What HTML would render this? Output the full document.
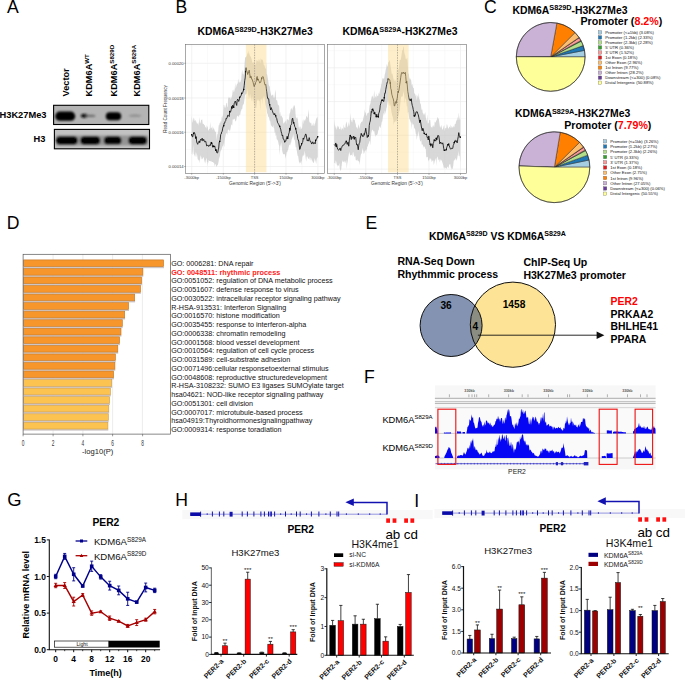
<!DOCTYPE html>
<html><head><meta charset="utf-8"><style>
html,body{margin:0;padding:0;background:#fff;width:685px;height:680px;overflow:hidden}
svg{display:block}
text{font-family:"Liberation Sans",sans-serif}
</style></head><body>
<svg width="685" height="680" viewBox="0 0 685 680" font-family="Liberation Sans, sans-serif">
<rect width="685" height="680" fill="#fff"/>
<text x="7.00" y="13.10" font-size="17.6" text-anchor="start" fill="#000" >A</text>
<text x="175.60" y="13.10" font-size="17.6" text-anchor="start" fill="#000" >B</text>
<text x="484.00" y="13.10" font-size="17.6" text-anchor="start" fill="#000" >C</text>
<text x="6.70" y="229.00" font-size="17.6" text-anchor="start" fill="#000" >D</text>
<text x="365.60" y="228.70" font-size="17.6" text-anchor="start" fill="#000" >E</text>
<text x="364.00" y="382.50" font-size="17.6" text-anchor="start" fill="#000" >F</text>
<text x="7.30" y="506.40" font-size="18.4" text-anchor="start" fill="#000" >G</text>
<text x="175.30" y="506.30" font-size="17.6" text-anchor="start" fill="#000" >H</text>
<text x="414.20" y="506.60" font-size="17.6" text-anchor="start" fill="#000" >I</text>
<text transform="translate(69.0,96.4) rotate(-90)" font-size="9.2" font-weight="bold">Vector</text>
<text transform="translate(92.3,96.4) rotate(-90)" font-size="9.2" font-weight="bold">KDM6A<tspan font-size="6.16" dy="-3.50">WT</tspan></text>
<text transform="translate(117.2,96.4) rotate(-90)" font-size="9.2" font-weight="bold">KDM6A<tspan font-size="6.16" dy="-3.50">S829D</tspan></text>
<text transform="translate(139.8,96.4) rotate(-90)" font-size="9.2" font-weight="bold">KDM6A<tspan font-size="6.16" dy="-3.50">S829A</tspan></text>
<text x="-0.50" y="117.90" font-size="9.3" font-weight="bold" text-anchor="start" fill="#000" >H3K27Me3</text>
<text x="33.60" y="141.90" font-size="9.3" font-weight="bold" text-anchor="start" fill="#000" >H3</text>
<defs><filter id="blur1" x="-30%" y="-50%" width="160%" height="200%"><feGaussianBlur stdDeviation="1.1"/></filter><filter id="blur2" x="-30%" y="-50%" width="160%" height="200%"><feGaussianBlur stdDeviation="0.8"/></filter></defs>
<rect x="53.6" y="105.3" width="95.2" height="19.2" fill="#b4b4b4"/>
<g filter="url(#blur1)"><rect x="55.2" y="111.6" width="20" height="9.2" rx="4.6" fill="#000"/><ellipse cx="84.4" cy="115.7" rx="3.6" ry="2" fill="#111"/><ellipse cx="90.5" cy="115.9" rx="5" ry="1.1" fill="#6a6a6a"/><rect x="105.8" y="112.2" width="15.4" height="8" rx="4" fill="#000"/><ellipse cx="135" cy="115.7" rx="6.4" ry="1.1" fill="#8a8a8a"/></g>
<rect x="53.6" y="105.3" width="95.2" height="19.2" fill="none" stroke="#000" stroke-width="1.1"/>
<rect x="54.4" y="129.4" width="95.1" height="19.4" fill="#c2c2c2"/>
<g filter="url(#blur2)"><rect x="56" y="135.5" width="92" height="10" fill="#707070" opacity="0.55"/><rect x="56.0" y="136.5" width="21.6" height="8" rx="4" fill="#000"/><rect x="80.4" y="136.6" width="19.8" height="7.8" rx="3.9" fill="#000"/><rect x="104.0" y="136.5" width="17.4" height="7.8" rx="3.9" fill="#000"/><rect x="128.4" y="136.4" width="18.6" height="8" rx="4" fill="#050505"/></g>
<rect x="54.4" y="129.4" width="95.1" height="19.4" fill="none" stroke="#000" stroke-width="1.1"/>
<text x="197.6" y="35.2" font-size="10.4" font-weight="bold">KDM6A<tspan font-size="7.28" dy="-3.60">S829D</tspan><tspan dy="3.60">-H3K27Me3</tspan></text>
<rect x="185.5" y="44.3" width="138.89999999999998" height="129.10000000000002" fill="#fff"/>
<path d="M207.50,44.3V173.4 M238.95,44.3V173.4 M270.30,44.3V173.4 M301.95,44.3V173.4 M185.5,80.62H324.4 M185.5,115.12H324.4 M185.5,149.38H324.4 M185.5,46.05H324.4" stroke="#f5f5f5" stroke-width="0.5" fill="none"/>
<path d="M191.70,44.3V173.4 M223.30,44.3V173.4 M254.60,44.3V173.4 M286.00,44.3V173.4 M317.90,44.3V173.4 M185.5,63.25H324.4 M185.5,98.00H324.4 M185.5,132.25H324.4 M185.5,166.50H324.4" stroke="#ececec" stroke-width="0.7" fill="none"/>
<path d="M191.70,116.05 L192.20,119.68 L192.70,123.15 L193.20,119.82 L193.70,117.51 L194.20,118.65 L194.70,120.88 L195.20,120.71 L195.70,119.78 L196.20,123.73 L196.70,121.04 L197.20,123.48 L197.70,124.04 L198.20,122.10 L198.70,125.77 L199.20,121.97 L199.70,116.97 L200.20,123.73 L200.70,122.55 L201.20,119.43 L201.70,119.99 L202.20,119.18 L202.70,123.76 L203.20,123.93 L203.70,123.78 L204.20,124.93 L204.70,124.89 L205.20,127.55 L205.70,127.14 L206.20,125.12 L206.70,128.85 L207.20,126.53 L207.70,126.39 L208.20,130.71 L208.70,130.35 L209.20,128.64 L209.70,128.94 L210.20,121.81 L210.70,128.70 L211.20,127.31 L211.70,128.61 L212.20,126.01 L212.70,130.02 L213.20,129.01 L213.70,127.35 L214.20,129.36 L214.70,130.56 L215.20,132.34 L215.70,131.34 L216.20,133.72 L216.70,140.57 L217.20,134.44 L217.70,134.03 L218.20,130.78 L218.70,125.37 L219.20,125.32 L219.70,122.68 L220.20,123.09 L220.70,121.06 L221.20,121.89 L221.70,117.30 L222.20,115.61 L222.70,118.88 L223.20,113.13 L223.70,104.77 L224.20,104.91 L224.70,107.46 L225.20,108.01 L225.70,106.28 L226.20,103.34 L226.70,102.74 L227.20,107.62 L227.70,106.28 L228.20,96.13 L228.70,98.69 L229.20,97.07 L229.70,98.36 L230.20,97.24 L230.70,99.64 L231.20,98.28 L231.70,97.00 L232.20,94.64 L232.70,90.51 L233.20,89.44 L233.70,92.35 L234.20,91.38 L234.70,89.09 L235.20,82.72 L235.70,88.68 L236.20,86.86 L236.70,84.86 L237.20,84.07 L237.70,83.26 L238.20,78.60 L238.70,82.31 L239.20,82.90 L239.70,81.30 L240.20,82.49 L240.70,81.34 L241.20,79.86 L241.70,73.38 L242.20,69.67 L242.70,73.82 L243.20,74.63 L243.70,73.53 L244.20,70.49 L244.70,62.09 L245.20,56.67 L245.70,57.83 L246.20,56.26 L246.70,56.40 L247.20,53.90 L247.70,53.13 L248.20,50.76 L248.70,53.62 L249.20,53.35 L249.70,55.10 L250.20,56.22 L250.70,56.43 L251.20,58.12 L251.70,59.41 L252.20,62.12 L252.70,63.01 L253.20,62.16 L253.70,61.95 L254.20,66.06 L254.70,60.28 L255.20,65.03 L255.70,64.22 L256.20,61.65 L256.70,59.82 L257.20,60.50 L257.70,61.05 L258.20,62.10 L258.70,59.26 L259.20,59.53 L259.70,60.62 L260.20,63.81 L260.70,57.97 L261.20,60.11 L261.70,59.25 L262.20,59.55 L262.70,59.89 L263.20,61.42 L263.70,64.64 L264.20,64.89 L264.70,66.36 L265.20,68.41 L265.70,68.83 L266.20,62.72 L266.70,73.80 L267.20,74.70 L267.70,77.76 L268.20,80.47 L268.70,84.78 L269.20,86.02 L269.70,86.41 L270.20,90.85 L270.70,92.92 L271.20,95.31 L271.70,95.64 L272.20,95.13 L272.70,94.50 L273.20,94.78 L273.70,97.78 L274.20,98.22 L274.70,96.02 L275.20,89.57 L275.70,92.99 L276.20,100.43 L276.70,99.93 L277.20,100.50 L277.70,103.88 L278.20,105.87 L278.70,104.58 L279.20,106.81 L279.70,114.68 L280.20,111.40 L280.70,116.53 L281.20,115.38 L281.70,116.00 L282.20,117.73 L282.70,117.16 L283.20,122.46 L283.70,123.86 L284.20,122.46 L284.70,122.58 L285.20,120.44 L285.70,121.42 L286.20,123.93 L286.70,119.69 L287.20,119.30 L287.70,119.25 L288.20,120.27 L288.70,120.23 L289.20,116.25 L289.70,113.14 L290.20,112.34 L290.70,109.39 L291.20,107.67 L291.70,108.93 L292.20,110.55 L292.70,108.48 L293.20,104.94 L293.70,108.20 L294.20,104.84 L294.70,105.96 L295.20,108.57 L295.70,116.13 L296.20,117.54 L296.70,118.16 L297.20,119.03 L297.70,116.76 L298.20,122.64 L298.70,127.60 L299.20,126.14 L299.70,128.44 L300.20,129.52 L300.70,125.94 L301.20,128.33 L301.70,129.20 L302.20,127.16 L302.70,119.38 L303.20,124.61 L303.70,119.53 L304.20,119.77 L304.70,121.50 L305.20,118.20 L305.70,120.99 L306.20,115.77 L306.70,116.42 L307.20,116.65 L307.70,118.18 L308.20,112.96 L308.70,109.19 L309.20,121.14 L309.70,122.15 L310.20,123.62 L310.70,122.47 L311.20,122.76 L311.70,126.12 L312.20,125.84 L312.70,124.64 L313.20,122.41 L313.70,125.79 L314.20,126.01 L314.70,123.97 L315.20,123.29 L315.70,120.86 L316.20,118.77 L316.70,117.98 L317.20,116.41 L317.70,118.66 L317.70,158.27 L317.20,156.93 L316.70,159.43 L316.20,163.92 L315.70,161.63 L315.20,159.88 L314.70,158.01 L314.20,161.16 L313.70,162.81 L313.20,163.07 L312.70,161.82 L312.20,160.61 L311.70,160.18 L311.20,158.16 L310.70,157.44 L310.20,160.49 L309.70,159.37 L309.20,156.78 L308.70,158.75 L308.20,159.10 L307.70,157.26 L307.20,156.13 L306.70,156.51 L306.20,161.67 L305.70,158.29 L305.20,154.02 L304.70,150.53 L304.20,154.94 L303.70,156.24 L303.20,154.30 L302.70,156.07 L302.20,157.86 L301.70,165.13 L301.20,160.43 L300.70,162.13 L300.20,163.21 L299.70,161.72 L299.20,163.93 L298.70,160.04 L298.20,156.33 L297.70,156.00 L297.20,153.23 L296.70,150.26 L296.20,146.97 L295.70,147.43 L295.20,143.04 L294.70,139.50 L294.20,140.08 L293.70,137.06 L293.20,133.98 L292.70,136.76 L292.20,138.35 L291.70,139.34 L291.20,141.95 L290.70,145.81 L290.20,141.90 L289.70,144.96 L289.20,144.98 L288.70,147.02 L288.20,149.62 L287.70,150.45 L287.20,152.13 L286.70,151.99 L286.20,155.24 L285.70,158.80 L285.20,155.77 L284.70,154.34 L284.20,153.98 L283.70,154.28 L283.20,154.18 L282.70,153.04 L282.20,150.76 L281.70,146.13 L281.20,142.33 L280.70,144.69 L280.20,146.52 L279.70,155.07 L279.20,145.93 L278.70,144.45 L278.20,141.86 L277.70,140.18 L277.20,139.59 L276.70,139.27 L276.20,134.89 L275.70,136.29 L275.20,131.67 L274.70,133.02 L274.20,128.43 L273.70,127.74 L273.20,125.01 L272.70,127.37 L272.20,126.94 L271.70,125.08 L271.20,126.72 L270.70,123.60 L270.20,120.79 L269.70,120.82 L269.20,118.22 L268.70,116.26 L268.20,117.39 L267.70,112.94 L267.20,114.43 L266.70,109.55 L266.20,107.49 L265.70,105.61 L265.20,103.14 L264.70,98.72 L264.20,95.92 L263.70,99.04 L263.20,95.54 L262.70,104.84 L262.20,97.60 L261.70,98.68 L261.20,100.23 L260.70,98.99 L260.20,110.77 L259.70,101.19 L259.20,100.80 L258.70,99.32 L258.20,101.11 L257.70,100.68 L257.20,98.97 L256.70,103.97 L256.20,107.95 L255.70,108.31 L255.20,107.40 L254.70,104.69 L254.20,105.34 L253.70,101.90 L253.20,99.13 L252.70,95.79 L252.20,101.19 L251.70,100.68 L251.20,97.18 L250.70,97.76 L250.20,93.91 L249.70,95.76 L249.20,98.83 L248.70,94.05 L248.20,99.38 L247.70,88.61 L247.20,91.55 L246.70,93.75 L246.20,93.90 L245.70,94.32 L245.20,94.73 L244.70,97.13 L244.20,101.21 L243.70,104.15 L243.20,104.54 L242.70,105.48 L242.20,109.04 L241.70,108.92 L241.20,110.45 L240.70,111.60 L240.20,114.76 L239.70,115.56 L239.20,114.13 L238.70,116.73 L238.20,116.46 L237.70,116.04 L237.20,115.62 L236.70,117.78 L236.20,120.49 L235.70,120.82 L235.20,121.63 L234.70,118.42 L234.20,119.01 L233.70,119.21 L233.20,119.66 L232.70,119.34 L232.20,125.68 L231.70,124.16 L231.20,124.90 L230.70,127.63 L230.20,130.29 L229.70,131.44 L229.20,129.83 L228.70,130.27 L228.20,129.03 L227.70,131.23 L227.20,135.09 L226.70,133.26 L226.20,132.97 L225.70,135.02 L225.20,137.43 L224.70,140.66 L224.20,147.54 L223.70,142.87 L223.20,145.63 L222.70,145.99 L222.20,147.29 L221.70,148.88 L221.20,150.37 L220.70,150.78 L220.20,152.72 L219.70,158.94 L219.20,156.06 L218.70,160.96 L218.20,163.55 L217.70,164.98 L217.20,165.38 L216.70,166.12 L216.20,167.05 L215.70,164.57 L215.20,163.82 L214.70,166.51 L214.20,163.18 L213.70,162.91 L213.20,162.17 L212.70,161.99 L212.20,161.96 L211.70,162.07 L211.20,160.68 L210.70,161.17 L210.20,161.15 L209.70,160.93 L209.20,160.88 L208.70,159.85 L208.20,163.00 L207.70,161.78 L207.20,166.44 L206.70,158.01 L206.20,158.65 L205.70,160.67 L205.20,163.43 L204.70,162.12 L204.20,160.12 L203.70,156.91 L203.20,157.39 L202.70,159.41 L202.20,157.92 L201.70,159.49 L201.20,156.92 L200.70,155.25 L200.20,158.07 L199.70,163.13 L199.20,159.55 L198.70,160.86 L198.20,159.47 L197.70,159.20 L197.20,155.42 L196.70,152.57 L196.20,157.08 L195.70,156.55 L195.20,151.38 L194.70,156.69 L194.20,154.85 L193.70,153.66 L193.20,144.94 L192.70,151.68 L192.20,155.01 L191.70,153.46Z" fill="#b8b8b8" opacity="0.55"/>
<path d="M191.70,134.75 L192.20,136.62 L192.70,136.96 L193.20,134.40 L193.70,133.37 L194.20,132.38 L194.70,133.34 L195.20,134.98 L195.70,137.96 L196.20,136.62 L196.70,142.05 L197.20,143.16 L197.70,144.31 L198.20,142.83 L198.70,141.47 L199.20,141.73 L199.70,142.03 L200.20,140.32 L200.70,139.28 L201.20,140.44 L201.70,139.28 L202.20,138.17 L202.70,140.78 L203.20,140.76 L203.70,139.28 L204.20,140.57 L204.70,141.85 L205.20,141.54 L205.70,141.18 L206.20,143.45 L206.70,145.93 L207.20,145.62 L207.70,144.95 L208.20,145.96 L208.70,146.47 L209.20,144.95 L209.70,145.21 L210.20,145.78 L210.70,143.94 L211.20,141.97 L211.70,143.16 L212.20,144.67 L212.70,147.23 L213.20,145.59 L213.70,146.41 L214.20,147.01 L214.70,145.91 L215.20,148.32 L215.70,150.20 L216.20,149.42 L216.70,152.37 L217.20,153.09 L217.70,152.77 L218.20,149.92 L218.70,148.09 L219.20,142.59 L219.70,141.58 L220.20,139.76 L220.70,134.49 L221.20,134.10 L221.70,131.93 L222.20,131.34 L222.70,128.18 L223.20,126.65 L223.70,125.85 L224.20,122.97 L224.70,123.06 L225.20,121.33 L225.70,120.67 L226.20,118.15 L226.70,118.59 L227.20,117.35 L227.70,115.31 L228.20,115.33 L228.70,115.87 L229.20,116.52 L229.70,111.56 L230.20,112.38 L230.70,111.49 L231.20,109.72 L231.70,107.04 L232.20,108.56 L232.70,105.11 L233.20,106.04 L233.70,107.20 L234.20,103.20 L234.70,102.95 L235.20,101.05 L235.70,102.13 L236.20,104.13 L236.70,105.45 L237.20,100.18 L237.70,99.13 L238.20,100.12 L238.70,101.45 L239.20,99.98 L239.70,97.24 L240.20,97.13 L240.70,96.24 L241.20,95.18 L241.70,93.35 L242.20,93.36 L242.70,92.60 L243.20,91.02 L243.70,89.47 L244.20,85.73 L244.70,80.73 L245.20,77.97 L245.70,71.74 L246.20,67.65 L246.70,71.11 L247.20,71.74 L247.70,74.54 L248.20,73.07 L248.70,71.88 L249.20,70.15 L249.70,73.63 L250.20,77.94 L250.70,76.07 L251.20,76.36 L251.70,79.19 L252.20,79.28 L252.70,81.01 L253.20,82.57 L253.70,84.94 L254.20,86.64 L254.70,84.82 L255.20,84.76 L255.70,82.24 L256.20,81.64 L256.70,77.24 L257.20,76.41 L257.70,79.60 L258.20,79.11 L258.70,80.68 L259.20,81.42 L259.70,82.98 L260.20,82.62 L260.70,82.35 L261.20,80.31 L261.70,78.25 L262.20,77.00 L262.70,76.50 L263.20,76.81 L263.70,78.91 L264.20,81.42 L264.70,83.97 L265.20,85.18 L265.70,84.34 L266.20,88.22 L266.70,91.82 L267.20,96.05 L267.70,98.58 L268.20,98.39 L268.70,98.81 L269.20,103.70 L269.70,104.81 L270.20,107.59 L270.70,110.01 L271.20,107.55 L271.70,108.92 L272.20,110.37 L272.70,111.89 L273.20,113.28 L273.70,114.15 L274.20,114.97 L274.70,113.44 L275.20,115.24 L275.70,115.77 L276.20,117.82 L276.70,118.45 L277.20,120.85 L277.70,122.79 L278.20,123.47 L278.70,124.34 L279.20,125.62 L279.70,126.32 L280.20,127.96 L280.70,129.13 L281.20,131.85 L281.70,133.44 L282.20,135.89 L282.70,135.14 L283.20,138.92 L283.70,139.15 L284.20,140.20 L284.70,142.37 L285.20,141.07 L285.70,141.19 L286.20,139.44 L286.70,137.40 L287.20,136.26 L287.70,138.33 L288.20,136.88 L288.70,133.93 L289.20,132.64 L289.70,128.63 L290.20,130.51 L290.70,125.39 L291.20,124.83 L291.70,123.51 L292.20,118.86 L292.70,118.15 L293.20,121.32 L293.70,122.83 L294.20,124.05 L294.70,126.44 L295.20,127.22 L295.70,128.86 L296.20,130.63 L296.70,133.90 L297.20,134.46 L297.70,138.59 L298.20,139.94 L298.70,141.06 L299.20,145.05 L299.70,149.47 L300.20,148.76 L300.70,145.84 L301.20,145.83 L301.70,143.70 L302.20,142.77 L302.70,142.21 L303.20,138.01 L303.70,139.31 L304.20,137.66 L304.70,136.95 L305.20,135.05 L305.70,133.91 L306.20,134.83 L306.70,137.98 L307.20,140.80 L307.70,139.80 L308.20,141.15 L308.70,140.08 L309.20,137.61 L309.70,139.82 L310.20,141.57 L310.70,141.42 L311.20,142.75 L311.70,144.06 L312.20,142.90 L312.70,141.82 L313.20,143.49 L313.70,143.82 L314.20,142.55 L314.70,143.21 L315.20,143.87 L315.70,140.35 L316.20,139.67 L316.70,139.01 L317.20,137.67 L317.70,136.85" fill="none" stroke="#111" stroke-width="0.85" stroke-linejoin="bevel"/>
<path d="M190.90,134.75a0.8,0.8 0 1,0 1.6,0a0.8,0.8 0 1,0 -1.6,0M192.90,133.37a0.8,0.8 0 1,0 1.6,0a0.8,0.8 0 1,0 -1.6,0M194.90,137.96a0.8,0.8 0 1,0 1.6,0a0.8,0.8 0 1,0 -1.6,0M198.90,142.03a0.8,0.8 0 1,0 1.6,0a0.8,0.8 0 1,0 -1.6,0M210.90,143.16a0.8,0.8 0 1,0 1.6,0a0.8,0.8 0 1,0 -1.6,0M212.90,146.41a0.8,0.8 0 1,0 1.6,0a0.8,0.8 0 1,0 -1.6,0M214.90,150.20a0.8,0.8 0 1,0 1.6,0a0.8,0.8 0 1,0 -1.6,0M218.90,141.58a0.8,0.8 0 1,0 1.6,0a0.8,0.8 0 1,0 -1.6,0M222.90,125.85a0.8,0.8 0 1,0 1.6,0a0.8,0.8 0 1,0 -1.6,0M228.90,111.56a0.8,0.8 0 1,0 1.6,0a0.8,0.8 0 1,0 -1.6,0M230.90,107.04a0.8,0.8 0 1,0 1.6,0a0.8,0.8 0 1,0 -1.6,0M232.90,107.20a0.8,0.8 0 1,0 1.6,0a0.8,0.8 0 1,0 -1.6,0M238.90,97.24a0.8,0.8 0 1,0 1.6,0a0.8,0.8 0 1,0 -1.6,0M240.90,93.35a0.8,0.8 0 1,0 1.6,0a0.8,0.8 0 1,0 -1.6,0M242.90,89.47a0.8,0.8 0 1,0 1.6,0a0.8,0.8 0 1,0 -1.6,0M244.90,71.74a0.8,0.8 0 1,0 1.6,0a0.8,0.8 0 1,0 -1.6,0M256.90,79.60a0.8,0.8 0 1,0 1.6,0a0.8,0.8 0 1,0 -1.6,0M260.90,78.25a0.8,0.8 0 1,0 1.6,0a0.8,0.8 0 1,0 -1.6,0M268.90,104.81a0.8,0.8 0 1,0 1.6,0a0.8,0.8 0 1,0 -1.6,0M274.90,115.77a0.8,0.8 0 1,0 1.6,0a0.8,0.8 0 1,0 -1.6,0M278.90,126.32a0.8,0.8 0 1,0 1.6,0a0.8,0.8 0 1,0 -1.6,0M286.90,138.33a0.8,0.8 0 1,0 1.6,0a0.8,0.8 0 1,0 -1.6,0M288.90,128.63a0.8,0.8 0 1,0 1.6,0a0.8,0.8 0 1,0 -1.6,0M292.90,122.83a0.8,0.8 0 1,0 1.6,0a0.8,0.8 0 1,0 -1.6,0M294.90,128.86a0.8,0.8 0 1,0 1.6,0a0.8,0.8 0 1,0 -1.6,0M300.90,143.70a0.8,0.8 0 1,0 1.6,0a0.8,0.8 0 1,0 -1.6,0M314.90,140.35a0.8,0.8 0 1,0 1.6,0a0.8,0.8 0 1,0 -1.6,0M316.90,136.85a0.8,0.8 0 1,0 1.6,0a0.8,0.8 0 1,0 -1.6,0" fill="#000"/>
<rect x="245.9" y="44.3" width="20.599999999999994" height="127.90000000000002" fill="#ffd98a" opacity="0.45"/>
<path d="M254.6,44.3V173.4" stroke="#777" stroke-width="0.5" stroke-dasharray="1.4,1.2"/>
<rect x="185.5" y="44.3" width="138.89999999999998" height="129.10000000000002" fill="none" stroke="#6e6e6e" stroke-width="0.6"/>
<path d="M191.70,173.4v1.2 M223.30,173.4v1.2 M254.60,173.4v1.2 M286.00,173.4v1.2 M317.90,173.4v1.2" stroke="#555" stroke-width="0.5"/>
<text x="191.70" y="179.00" font-size="4.0" text-anchor="middle" fill="#3a3a3a" >-3000bp</text>
<text x="223.30" y="179.00" font-size="4.0" text-anchor="middle" fill="#3a3a3a" >-1500bp</text>
<text x="254.60" y="179.00" font-size="4.0" text-anchor="middle" fill="#3a3a3a" >TSS</text>
<text x="286.00" y="179.00" font-size="4.0" text-anchor="middle" fill="#3a3a3a" >1500bp</text>
<text x="317.90" y="179.00" font-size="4.0" text-anchor="middle" fill="#3a3a3a" >3000bp</text>
<text x="254.95" y="185.20" font-size="4.8" text-anchor="middle" fill="#333" >Genomic Region (5'-&gt;3')</text>
<text x="183.70" y="64.75" font-size="4.2" text-anchor="end" fill="#3a3a3a" >0.00020</text>
<text x="183.70" y="99.50" font-size="4.2" text-anchor="end" fill="#3a3a3a" >0.00018</text>
<text x="183.70" y="133.75" font-size="4.2" text-anchor="end" fill="#3a3a3a" >0.00016</text>
<text x="183.70" y="168.00" font-size="4.2" text-anchor="end" fill="#3a3a3a" >0.00014</text>
<path d="M184.3,63.25h1.2 M184.3,98.00h1.2 M184.3,132.25h1.2 M184.3,166.50h1.2" stroke="#555" stroke-width="0.5"/>
<text transform="translate(167.4,109) rotate(-90)" font-size="4.6" text-anchor="middle" fill="#333">Read Count Frequency</text>
<text x="342.4" y="35.2" font-size="10.4" font-weight="bold">KDM6A<tspan font-size="7.28" dy="-3.60">S829A</tspan><tspan dy="3.60">-H3K27Me3</tspan></text>
<rect x="327.6" y="44.3" width="138.79999999999995" height="129.3" fill="#fff"/>
<path d="M350.00,44.3V173.6 M381.62,44.3V173.6 M413.25,44.3V173.6 M444.75,44.3V173.6 M327.6,84.70H466.4 M327.6,118.45H466.4 M327.6,152.20H466.4 M327.6,50.60H466.4" stroke="#f5f5f5" stroke-width="0.5" fill="none"/>
<path d="M334.25,44.3V173.6 M365.75,44.3V173.6 M397.50,44.3V173.6 M429.00,44.3V173.6 M460.50,44.3V173.6 M327.6,67.80H466.4 M327.6,101.60H466.4 M327.6,135.30H466.4 M327.6,169.10H466.4" stroke="#ececec" stroke-width="0.7" fill="none"/>
<path d="M334.25,119.60 L334.75,124.29 L335.25,128.44 L335.75,125.33 L336.25,128.00 L336.75,130.08 L337.25,127.20 L337.75,125.39 L338.25,126.55 L338.75,127.07 L339.25,129.46 L339.75,128.87 L340.25,129.51 L340.75,126.15 L341.25,128.55 L341.75,130.44 L342.25,127.88 L342.75,128.57 L343.25,129.88 L343.75,124.19 L344.25,127.39 L344.75,127.57 L345.25,128.24 L345.75,124.50 L346.25,121.56 L346.75,123.05 L347.25,125.93 L347.75,127.58 L348.25,125.34 L348.75,121.70 L349.25,126.39 L349.75,123.54 L350.25,112.75 L350.75,119.76 L351.25,119.81 L351.75,122.11 L352.25,122.61 L352.75,119.02 L353.25,117.52 L353.75,120.27 L354.25,119.41 L354.75,120.01 L355.25,122.77 L355.75,124.17 L356.25,127.45 L356.75,126.89 L357.25,129.26 L357.75,127.42 L358.25,126.09 L358.75,124.12 L359.25,127.37 L359.75,128.86 L360.25,123.93 L360.75,123.18 L361.25,121.88 L361.75,121.83 L362.25,121.70 L362.75,120.62 L363.25,118.46 L363.75,116.39 L364.25,114.42 L364.75,109.23 L365.25,113.78 L365.75,111.70 L366.25,115.37 L366.75,115.92 L367.25,113.59 L367.75,112.94 L368.25,112.67 L368.75,112.63 L369.25,108.40 L369.75,105.07 L370.25,104.23 L370.75,101.49 L371.25,98.96 L371.75,96.61 L372.25,96.87 L372.75,95.22 L373.25,99.02 L373.75,95.77 L374.25,89.96 L374.75,97.95 L375.25,97.17 L375.75,95.79 L376.25,97.63 L376.75,93.13 L377.25,96.09 L377.75,96.14 L378.25,95.70 L378.75,92.57 L379.25,94.21 L379.75,91.85 L380.25,89.25 L380.75,87.61 L381.25,84.20 L381.75,83.32 L382.25,79.58 L382.75,77.86 L383.25,79.00 L383.75,78.34 L384.25,78.32 L384.75,74.61 L385.25,72.72 L385.75,69.49 L386.25,68.16 L386.75,63.67 L387.25,67.12 L387.75,65.19 L388.25,61.74 L388.75,62.48 L389.25,61.04 L389.75,59.83 L390.25,63.96 L390.75,67.01 L391.25,70.73 L391.75,74.02 L392.25,73.52 L392.75,75.07 L393.25,77.77 L393.75,79.68 L394.25,81.52 L394.75,79.19 L395.25,79.83 L395.75,81.05 L396.25,83.02 L396.75,66.86 L397.25,78.23 L397.75,74.15 L398.25,68.83 L398.75,69.53 L399.25,63.94 L399.75,59.64 L400.25,60.10 L400.75,59.81 L401.25,56.71 L401.75,53.14 L402.25,49.68 L402.75,50.62 L403.25,46.45 L403.75,46.67 L404.25,52.24 L404.75,54.29 L405.25,55.58 L405.75,58.92 L406.25,58.36 L406.75,59.72 L407.25,57.42 L407.75,62.98 L408.25,74.02 L408.75,73.14 L409.25,77.57 L409.75,79.02 L410.25,80.06 L410.75,78.10 L411.25,81.30 L411.75,85.46 L412.25,83.82 L412.75,86.40 L413.25,87.99 L413.75,87.89 L414.25,92.93 L414.75,93.66 L415.25,94.27 L415.75,96.45 L416.25,94.44 L416.75,100.76 L417.25,97.24 L417.75,95.01 L418.25,97.76 L418.75,92.62 L419.25,98.77 L419.75,99.79 L420.25,104.44 L420.75,103.09 L421.25,107.91 L421.75,110.23 L422.25,109.24 L422.75,113.11 L423.25,113.27 L423.75,115.03 L424.25,113.05 L424.75,115.45 L425.25,111.80 L425.75,117.25 L426.25,119.44 L426.75,121.44 L427.25,114.28 L427.75,123.41 L428.25,122.66 L428.75,123.66 L429.25,119.77 L429.75,119.91 L430.25,119.96 L430.75,126.12 L431.25,127.85 L431.75,126.82 L432.25,127.73 L432.75,125.79 L433.25,124.97 L433.75,126.69 L434.25,126.83 L434.75,121.60 L435.25,122.70 L435.75,122.05 L436.25,120.72 L436.75,120.04 L437.25,118.27 L437.75,116.67 L438.25,118.84 L438.75,118.47 L439.25,122.51 L439.75,125.74 L440.25,127.88 L440.75,126.54 L441.25,125.02 L441.75,127.22 L442.25,129.88 L442.75,129.03 L443.25,127.95 L443.75,125.93 L444.25,125.17 L444.75,131.02 L445.25,128.13 L445.75,127.95 L446.25,128.15 L446.75,124.22 L447.25,124.64 L447.75,126.88 L448.25,128.75 L448.75,128.26 L449.25,126.91 L449.75,126.93 L450.25,124.55 L450.75,128.21 L451.25,127.82 L451.75,125.87 L452.25,126.90 L452.75,127.69 L453.25,127.35 L453.75,125.62 L454.25,127.57 L454.75,124.37 L455.25,123.93 L455.75,123.41 L456.25,119.56 L456.75,121.67 L457.25,116.39 L457.75,119.89 L458.25,119.86 L458.75,112.46 L459.25,117.18 L459.75,119.75 L460.25,119.37 L460.25,162.27 L459.75,156.15 L459.25,155.64 L458.75,150.74 L458.25,156.17 L457.75,154.95 L457.25,158.33 L456.75,160.77 L456.25,159.51 L455.75,157.66 L455.25,159.85 L454.75,159.58 L454.25,160.39 L453.75,160.76 L453.25,165.77 L452.75,167.96 L452.25,169.44 L451.75,167.27 L451.25,170.04 L450.75,167.18 L450.25,163.94 L449.75,164.65 L449.25,164.05 L448.75,167.09 L448.25,168.28 L447.75,167.00 L447.25,166.53 L446.75,168.91 L446.25,168.26 L445.75,167.49 L445.25,168.34 L444.75,167.11 L444.25,168.75 L443.75,167.94 L443.25,165.17 L442.75,163.60 L442.25,161.94 L441.75,160.64 L441.25,160.02 L440.75,159.14 L440.25,160.78 L439.75,162.57 L439.25,159.10 L438.75,160.39 L438.25,159.20 L437.75,157.09 L437.25,156.48 L436.75,165.94 L436.25,157.88 L435.75,158.58 L435.25,160.14 L434.75,160.80 L434.25,163.17 L433.75,164.98 L433.25,160.02 L432.75,161.47 L432.25,159.96 L431.75,162.13 L431.25,159.86 L430.75,158.06 L430.25,159.85 L429.75,158.09 L429.25,160.28 L428.75,160.03 L428.25,161.71 L427.75,157.04 L427.25,156.83 L426.75,157.45 L426.25,157.01 L425.75,148.52 L425.25,149.14 L424.75,145.89 L424.25,147.50 L423.75,145.83 L423.25,147.92 L422.75,143.91 L422.25,144.77 L421.75,144.64 L421.25,139.79 L420.75,141.40 L420.25,141.16 L419.75,139.30 L419.25,135.71 L418.75,134.06 L418.25,130.84 L417.75,135.29 L417.25,136.16 L416.75,140.09 L416.25,134.16 L415.75,133.70 L415.25,129.70 L414.75,128.20 L414.25,128.51 L413.75,125.06 L413.25,123.93 L412.75,124.79 L412.25,122.15 L411.75,129.44 L411.25,122.52 L410.75,122.39 L410.25,120.70 L409.75,119.38 L409.25,118.84 L408.75,114.43 L408.25,111.68 L407.75,112.98 L407.25,106.24 L406.75,106.34 L406.25,100.66 L405.75,98.96 L405.25,97.52 L404.75,103.88 L404.25,95.66 L403.75,93.19 L403.25,91.23 L402.75,96.40 L402.25,96.30 L401.75,97.05 L401.25,96.29 L400.75,99.75 L400.25,104.37 L399.75,110.46 L399.25,111.11 L398.75,115.04 L398.25,116.61 L397.75,118.28 L397.25,118.51 L396.75,120.32 L396.25,121.86 L395.75,121.87 L395.25,120.39 L394.75,122.32 L394.25,122.05 L393.75,125.27 L393.25,119.43 L392.75,116.95 L392.25,115.65 L391.75,113.41 L391.25,111.04 L390.75,106.69 L390.25,104.77 L389.75,102.67 L389.25,106.19 L388.75,104.45 L388.25,100.96 L387.75,100.35 L387.25,104.50 L386.75,107.21 L386.25,108.84 L385.75,114.07 L385.25,111.17 L384.75,110.49 L384.25,114.90 L383.75,112.77 L383.25,114.90 L382.75,117.52 L382.25,121.49 L381.75,121.64 L381.25,124.38 L380.75,126.92 L380.25,128.29 L379.75,126.61 L379.25,126.25 L378.75,130.07 L378.25,130.21 L377.75,133.62 L377.25,134.51 L376.75,134.90 L376.25,134.98 L375.75,137.03 L375.25,134.82 L374.75,134.38 L374.25,130.90 L373.75,131.55 L373.25,131.07 L372.75,129.43 L372.25,130.12 L371.75,130.95 L371.25,133.32 L370.75,138.97 L370.25,145.14 L369.75,141.11 L369.25,141.22 L368.75,143.40 L368.25,144.30 L367.75,147.12 L367.25,145.89 L366.75,152.13 L366.25,149.01 L365.75,149.76 L365.25,151.08 L364.75,151.29 L364.25,152.94 L363.75,154.36 L363.25,150.52 L362.75,150.53 L362.25,147.84 L361.75,153.84 L361.25,153.52 L360.75,155.13 L360.25,158.45 L359.75,164.96 L359.25,162.08 L358.75,160.43 L358.25,161.45 L357.75,160.88 L357.25,159.19 L356.75,160.13 L356.25,160.49 L355.75,159.92 L355.25,155.55 L354.75,157.28 L354.25,155.91 L353.75,154.82 L353.25,151.69 L352.75,152.54 L352.25,156.43 L351.75,154.87 L351.25,154.81 L350.75,155.34 L350.25,155.57 L349.75,153.70 L349.25,151.50 L348.75,154.82 L348.25,157.16 L347.75,161.24 L347.25,163.49 L346.75,169.10 L346.25,159.91 L345.75,161.62 L345.25,163.04 L344.75,162.44 L344.25,160.47 L343.75,161.49 L343.25,162.37 L342.75,161.73 L342.25,159.96 L341.75,164.77 L341.25,168.66 L340.75,171.33 L340.25,169.75 L339.75,168.43 L339.25,162.92 L338.75,166.12 L338.25,165.46 L337.75,164.63 L337.25,166.84 L336.75,164.25 L336.25,161.67 L335.75,160.21 L335.25,163.64 L334.75,162.96 L334.25,163.07Z" fill="#b8b8b8" opacity="0.55"/>
<path d="M334.25,144.57 L334.75,145.26 L335.25,145.63 L335.75,142.96 L336.25,146.20 L336.75,144.39 L337.25,147.91 L337.75,149.00 L338.25,149.85 L338.75,150.28 L339.25,149.74 L339.75,148.33 L340.25,148.07 L340.75,150.62 L341.25,148.33 L341.75,147.41 L342.25,145.95 L342.75,145.29 L343.25,144.97 L343.75,145.33 L344.25,144.38 L344.75,143.55 L345.25,142.71 L345.75,143.27 L346.25,141.30 L346.75,142.31 L347.25,144.46 L347.75,142.27 L348.25,142.21 L348.75,146.19 L349.25,140.97 L349.75,136.68 L350.25,135.52 L350.75,137.27 L351.25,139.60 L351.75,136.42 L352.25,137.94 L352.75,138.17 L353.25,137.78 L353.75,136.00 L354.25,138.83 L354.75,137.04 L355.25,137.64 L355.75,137.32 L356.25,142.27 L356.75,145.05 L357.25,144.35 L357.75,146.75 L358.25,149.77 L358.75,145.16 L359.25,143.36 L359.75,142.35 L360.25,138.14 L360.75,135.70 L361.25,133.31 L361.75,135.42 L362.25,134.93 L362.75,136.65 L363.25,136.04 L363.75,136.10 L364.25,133.93 L364.75,133.35 L365.25,131.04 L365.75,128.19 L366.25,131.91 L366.75,134.01 L367.25,137.54 L367.75,136.36 L368.25,135.92 L368.75,134.59 L369.25,125.46 L369.75,122.46 L370.25,121.12 L370.75,116.61 L371.25,111.44 L371.75,112.40 L372.25,109.73 L372.75,108.60 L373.25,109.77 L373.75,111.37 L374.25,113.62 L374.75,112.07 L375.25,114.20 L375.75,114.89 L376.25,116.79 L376.75,114.21 L377.25,116.66 L377.75,115.99 L378.25,116.89 L378.75,113.20 L379.25,112.17 L379.75,109.97 L380.25,105.19 L380.75,103.75 L381.25,101.73 L381.75,99.73 L382.25,100.20 L382.75,99.73 L383.25,101.22 L383.75,101.58 L384.25,97.71 L384.75,93.18 L385.25,93.29 L385.75,89.64 L386.25,86.94 L386.75,84.33 L387.25,82.05 L387.75,81.72 L388.25,78.99 L388.75,79.39 L389.25,79.23 L389.75,79.88 L390.25,82.98 L390.75,88.71 L391.25,89.78 L391.75,94.23 L392.25,95.75 L392.75,97.90 L393.25,98.84 L393.75,101.54 L394.25,105.93 L394.75,105.80 L395.25,102.88 L395.75,101.56 L396.25,103.34 L396.75,99.60 L397.25,98.17 L397.75,93.36 L398.25,91.91 L398.75,91.05 L399.25,88.15 L399.75,84.47 L400.25,80.97 L400.75,77.26 L401.25,73.95 L401.75,72.48 L402.25,73.12 L402.75,73.58 L403.25,72.05 L403.75,73.10 L404.25,73.88 L404.75,73.02 L405.25,72.32 L405.75,76.61 L406.25,82.58 L406.75,80.96 L407.25,84.88 L407.75,91.64 L408.25,94.18 L408.75,97.78 L409.25,99.57 L409.75,100.36 L410.25,99.29 L410.75,100.83 L411.25,98.73 L411.75,102.88 L412.25,105.42 L412.75,106.91 L413.25,109.70 L413.75,111.80 L414.25,115.90 L414.75,116.43 L415.25,115.78 L415.75,112.99 L416.25,111.70 L416.75,111.99 L417.25,111.83 L417.75,113.71 L418.25,114.68 L418.75,117.15 L419.25,119.73 L419.75,122.75 L420.25,120.60 L420.75,122.83 L421.25,126.00 L421.75,128.81 L422.25,130.75 L422.75,128.15 L423.25,128.96 L423.75,131.53 L424.25,133.50 L424.75,133.83 L425.25,134.37 L425.75,134.99 L426.25,134.23 L426.75,135.65 L427.25,137.64 L427.75,137.31 L428.25,140.01 L428.75,135.95 L429.25,138.32 L429.75,142.87 L430.25,144.27 L430.75,146.26 L431.25,145.58 L431.75,143.76 L432.25,144.33 L432.75,147.79 L433.25,143.37 L433.75,142.21 L434.25,140.12 L434.75,140.44 L435.25,140.28 L435.75,141.14 L436.25,138.40 L436.75,140.02 L437.25,138.37 L437.75,135.50 L438.25,135.56 L438.75,135.73 L439.25,139.02 L439.75,143.84 L440.25,143.13 L440.75,142.01 L441.25,143.37 L441.75,143.78 L442.25,143.86 L442.75,142.81 L443.25,145.16 L443.75,148.72 L444.25,150.21 L444.75,150.80 L445.25,150.21 L445.75,150.10 L446.25,149.70 L446.75,147.36 L447.25,146.17 L447.75,144.02 L448.25,144.84 L448.75,143.47 L449.25,145.62 L449.75,147.30 L450.25,148.47 L450.75,149.25 L451.25,148.33 L451.75,148.20 L452.25,148.80 L452.75,148.30 L453.25,145.48 L453.75,144.24 L454.25,142.46 L454.75,140.79 L455.25,141.81 L455.75,140.28 L456.25,140.68 L456.75,142.27 L457.25,142.94 L457.75,139.19 L458.25,136.65 L458.75,132.64 L459.25,135.27 L459.75,136.64 L460.25,137.16" fill="none" stroke="#111" stroke-width="0.85" stroke-linejoin="bevel"/>
<path d="M335.45,146.20a0.8,0.8 0 1,0 1.6,0a0.8,0.8 0 1,0 -1.6,0M345.45,141.30a0.8,0.8 0 1,0 1.6,0a0.8,0.8 0 1,0 -1.6,0M349.45,135.52a0.8,0.8 0 1,0 1.6,0a0.8,0.8 0 1,0 -1.6,0M353.45,138.83a0.8,0.8 0 1,0 1.6,0a0.8,0.8 0 1,0 -1.6,0M363.45,133.93a0.8,0.8 0 1,0 1.6,0a0.8,0.8 0 1,0 -1.6,0M367.45,135.92a0.8,0.8 0 1,0 1.6,0a0.8,0.8 0 1,0 -1.6,0M371.45,109.73a0.8,0.8 0 1,0 1.6,0a0.8,0.8 0 1,0 -1.6,0M373.45,113.62a0.8,0.8 0 1,0 1.6,0a0.8,0.8 0 1,0 -1.6,0M375.45,116.79a0.8,0.8 0 1,0 1.6,0a0.8,0.8 0 1,0 -1.6,0M377.45,116.89a0.8,0.8 0 1,0 1.6,0a0.8,0.8 0 1,0 -1.6,0M381.45,100.20a0.8,0.8 0 1,0 1.6,0a0.8,0.8 0 1,0 -1.6,0M383.45,97.71a0.8,0.8 0 1,0 1.6,0a0.8,0.8 0 1,0 -1.6,0M387.45,78.99a0.8,0.8 0 1,0 1.6,0a0.8,0.8 0 1,0 -1.6,0M389.45,82.98a0.8,0.8 0 1,0 1.6,0a0.8,0.8 0 1,0 -1.6,0M397.45,91.91a0.8,0.8 0 1,0 1.6,0a0.8,0.8 0 1,0 -1.6,0M405.45,82.58a0.8,0.8 0 1,0 1.6,0a0.8,0.8 0 1,0 -1.6,0M413.45,115.90a0.8,0.8 0 1,0 1.6,0a0.8,0.8 0 1,0 -1.6,0M419.45,120.60a0.8,0.8 0 1,0 1.6,0a0.8,0.8 0 1,0 -1.6,0M423.45,133.50a0.8,0.8 0 1,0 1.6,0a0.8,0.8 0 1,0 -1.6,0M425.45,134.23a0.8,0.8 0 1,0 1.6,0a0.8,0.8 0 1,0 -1.6,0M429.45,144.27a0.8,0.8 0 1,0 1.6,0a0.8,0.8 0 1,0 -1.6,0M433.45,140.12a0.8,0.8 0 1,0 1.6,0a0.8,0.8 0 1,0 -1.6,0M435.45,138.40a0.8,0.8 0 1,0 1.6,0a0.8,0.8 0 1,0 -1.6,0M443.45,150.21a0.8,0.8 0 1,0 1.6,0a0.8,0.8 0 1,0 -1.6,0M445.45,149.70a0.8,0.8 0 1,0 1.6,0a0.8,0.8 0 1,0 -1.6,0M447.45,144.84a0.8,0.8 0 1,0 1.6,0a0.8,0.8 0 1,0 -1.6,0M453.45,142.46a0.8,0.8 0 1,0 1.6,0a0.8,0.8 0 1,0 -1.6,0M459.45,137.16a0.8,0.8 0 1,0 1.6,0a0.8,0.8 0 1,0 -1.6,0" fill="#000"/>
<rect x="388.0" y="44.3" width="20.69999999999999" height="128.10000000000002" fill="#ffd98a" opacity="0.45"/>
<path d="M397.5,44.3V173.6" stroke="#777" stroke-width="0.5" stroke-dasharray="1.4,1.2"/>
<rect x="327.6" y="44.3" width="138.79999999999995" height="129.3" fill="none" stroke="#6e6e6e" stroke-width="0.6"/>
<path d="M334.25,173.6v1.2 M365.75,173.6v1.2 M397.50,173.6v1.2 M429.00,173.6v1.2 M460.50,173.6v1.2" stroke="#555" stroke-width="0.5"/>
<text x="334.25" y="179.00" font-size="4.0" text-anchor="middle" fill="#3a3a3a" >-3000bp</text>
<text x="365.75" y="179.00" font-size="4.0" text-anchor="middle" fill="#3a3a3a" >-1500bp</text>
<text x="397.50" y="179.00" font-size="4.0" text-anchor="middle" fill="#3a3a3a" >TSS</text>
<text x="429.00" y="179.00" font-size="4.0" text-anchor="middle" fill="#3a3a3a" >1500bp</text>
<text x="460.50" y="179.00" font-size="4.0" text-anchor="middle" fill="#3a3a3a" >3000bp</text>
<text x="397.00" y="185.20" font-size="4.8" text-anchor="middle" fill="#333" >Genomic Region (5'-&gt;3')</text>
<text x="512.4" y="13.6" font-size="10.4" font-weight="bold">KDM6A<tspan font-size="7.28" dy="-3.60">S829D</tspan><tspan dy="3.60">-H3K27Me3</tspan></text>
<text x="580.4" y="25.3" font-size="10.7" font-weight="bold">Promoter (<tspan fill="#ff0000">8.2%</tspan>)</text>
<path d="M550.7,56.9 L585.10,56.90 A34.4,34.4 0 0 0 584.48,50.39 Z" fill="#A6CEE3" stroke="#222" stroke-width="0.45"/>
<path d="M550.7,56.9 L584.48,50.39 A34.4,34.4 0 0 0 583.19,45.61 Z" fill="#1F78B4" stroke="#222" stroke-width="0.45"/>
<path d="M550.7,56.9 L583.19,45.61 A34.4,34.4 0 0 0 581.28,41.15 Z" fill="#B2DF8A" stroke="#222" stroke-width="0.45"/>
<path d="M550.7,56.9 L581.28,41.15 A34.4,34.4 0 0 0 580.93,40.48 Z" fill="#33A02C" stroke="#222" stroke-width="0.45"/>
<path d="M550.7,56.9 L580.93,40.48 A34.4,34.4 0 0 0 579.25,37.71 Z" fill="#FB9A99" stroke="#222" stroke-width="0.45"/>
<path d="M550.7,56.9 L579.25,37.71 A34.4,34.4 0 0 0 579.04,37.40 Z" fill="#E31A1C" stroke="#222" stroke-width="0.45"/>
<path d="M550.7,56.9 L579.04,37.40 A34.4,34.4 0 0 0 575.01,32.56 Z" fill="#FDBF6F" stroke="#222" stroke-width="0.45"/>
<path d="M550.7,56.9 L575.01,32.56 A34.4,34.4 0 0 0 556.89,23.06 Z" fill="#FF7F00" stroke="#222" stroke-width="0.45"/>
<path d="M550.7,56.9 L556.89,23.06 A34.4,34.4 0 0 0 516.30,56.62 Z" fill="#CAB2D6" stroke="#222" stroke-width="0.45"/>
<path d="M550.7,56.9 L516.30,56.62 A34.4,34.4 0 0 0 516.30,56.79 Z" fill="#6A3D9A" stroke="#222" stroke-width="0.45"/>
<path d="M550.7,56.9 L516.30,56.79 A34.4,34.4 0 1 0 585.10,56.90 Z" fill="#FFFF99" stroke="#222" stroke-width="0.45"/>
<circle cx="550.7" cy="56.9" r="34.4" fill="none" stroke="#222" stroke-width="0.6"/>
<rect x="598.3" y="30.70" width="3.4" height="3.4" fill="#A6CEE3" stroke="#555" stroke-width="0.3"/>
<text x="605.20" y="34.00" font-size="4.2" text-anchor="start" fill="#111" >Promoter (&lt;=1kb) (3.08%)</text>
<rect x="598.3" y="35.73" width="3.4" height="3.4" fill="#1F78B4" stroke="#555" stroke-width="0.3"/>
<text x="605.20" y="39.03" font-size="4.2" text-anchor="start" fill="#111" >Promoter (1-2kb) (2.33%)</text>
<rect x="598.3" y="40.76" width="3.4" height="3.4" fill="#B2DF8A" stroke="#555" stroke-width="0.3"/>
<text x="605.20" y="44.06" font-size="4.2" text-anchor="start" fill="#111" >Promoter (2-3kb) (2.28%)</text>
<rect x="598.3" y="45.79" width="3.4" height="3.4" fill="#33A02C" stroke="#555" stroke-width="0.3"/>
<text x="605.20" y="49.09" font-size="4.2" text-anchor="start" fill="#111" >5' UTR (0.36%)</text>
<rect x="598.3" y="50.82" width="3.4" height="3.4" fill="#FB9A99" stroke="#555" stroke-width="0.3"/>
<text x="605.20" y="54.12" font-size="4.2" text-anchor="start" fill="#111" >3' UTR (1.52%)</text>
<rect x="598.3" y="55.85" width="3.4" height="3.4" fill="#E31A1C" stroke="#555" stroke-width="0.3"/>
<text x="605.20" y="59.15" font-size="4.2" text-anchor="start" fill="#111" >1st Exon (0.18%)</text>
<rect x="598.3" y="60.88" width="3.4" height="3.4" fill="#FDBF6F" stroke="#555" stroke-width="0.3"/>
<text x="605.20" y="64.18" font-size="4.2" text-anchor="start" fill="#111" >Other Exon (2.96%)</text>
<rect x="598.3" y="65.91" width="3.4" height="3.4" fill="#FF7F00" stroke="#555" stroke-width="0.3"/>
<text x="605.20" y="69.21" font-size="4.2" text-anchor="start" fill="#111" >1st Intron (9.77%)</text>
<rect x="598.3" y="70.94" width="3.4" height="3.4" fill="#CAB2D6" stroke="#555" stroke-width="0.3"/>
<text x="605.20" y="74.24" font-size="4.2" text-anchor="start" fill="#111" >Other Intron (28.2%)</text>
<rect x="598.3" y="75.97" width="3.4" height="3.4" fill="#6A3D9A" stroke="#555" stroke-width="0.3"/>
<text x="605.20" y="79.27" font-size="4.2" text-anchor="start" fill="#111" >Downstream (&lt;=300) (0.08%)</text>
<rect x="598.3" y="81.00" width="3.4" height="3.4" fill="#FFFF99" stroke="#555" stroke-width="0.3"/>
<text x="605.20" y="84.30" font-size="4.2" text-anchor="start" fill="#111" >Distal Intergenic (50.88%)</text>
<text x="515" y="117.4" font-size="10.4" font-weight="bold">KDM6A<tspan font-size="7.28" dy="-3.60">S829A</tspan><tspan dy="3.60">-H3K27Me3</tspan></text>
<text x="564.2" y="129.3" font-size="10.6" font-weight="bold">Promoter (<tspan fill="#ff0000">7.79%</tspan>)</text>
<path d="M554.4,167.2 L589.80,167.20 A35.4,35.4 0 0 0 589.06,160.00 Z" fill="#A6CEE3" stroke="#222" stroke-width="0.45"/>
<path d="M554.4,167.2 L589.06,160.00 A35.4,35.4 0 0 0 587.68,155.15 Z" fill="#1F78B4" stroke="#222" stroke-width="0.45"/>
<path d="M554.4,167.2 L587.68,155.15 A35.4,35.4 0 0 0 585.64,150.56 Z" fill="#B2DF8A" stroke="#222" stroke-width="0.45"/>
<path d="M554.4,167.2 L585.64,150.56 A35.4,35.4 0 0 0 585.29,149.91 Z" fill="#33A02C" stroke="#222" stroke-width="0.45"/>
<path d="M554.4,167.2 L585.29,149.91 A35.4,35.4 0 0 0 583.69,147.32 Z" fill="#FB9A99" stroke="#222" stroke-width="0.45"/>
<path d="M554.4,167.2 L583.69,147.32 A35.4,35.4 0 0 0 583.46,146.99 Z" fill="#E31A1C" stroke="#222" stroke-width="0.45"/>
<path d="M554.4,167.2 L583.46,146.99 A35.4,35.4 0 0 0 579.56,142.29 Z" fill="#FDBF6F" stroke="#222" stroke-width="0.45"/>
<path d="M554.4,167.2 L579.56,142.29 A35.4,35.4 0 0 0 560.20,132.28 Z" fill="#FF7F00" stroke="#222" stroke-width="0.45"/>
<path d="M554.4,167.2 L560.20,132.28 A35.4,35.4 0 0 0 519.02,165.93 Z" fill="#CAB2D6" stroke="#222" stroke-width="0.45"/>
<path d="M554.4,167.2 L519.02,165.93 A35.4,35.4 0 0 0 519.02,166.07 Z" fill="#6A3D9A" stroke="#222" stroke-width="0.45"/>
<path d="M554.4,167.2 L519.02,166.07 A35.4,35.4 0 1 0 589.80,167.20 Z" fill="#FFFF99" stroke="#222" stroke-width="0.45"/>
<circle cx="554.4" cy="167.2" r="35.4" fill="none" stroke="#222" stroke-width="0.6"/>
<rect x="603.4" y="139.60" width="3.4" height="3.4" fill="#A6CEE3" stroke="#555" stroke-width="0.3"/>
<text x="610.30" y="142.90" font-size="4.15" text-anchor="start" fill="#111" >Promoter (&lt;=1kb) (3.26%)</text>
<rect x="603.4" y="144.84" width="3.4" height="3.4" fill="#1F78B4" stroke="#555" stroke-width="0.3"/>
<text x="610.30" y="148.14" font-size="4.15" text-anchor="start" fill="#111" >Promoter (1-2kb) (2.27%)</text>
<rect x="603.4" y="150.08" width="3.4" height="3.4" fill="#B2DF8A" stroke="#555" stroke-width="0.3"/>
<text x="610.30" y="153.38" font-size="4.15" text-anchor="start" fill="#111" >Promoter (2-3kb) (2.26%)</text>
<rect x="603.4" y="155.32" width="3.4" height="3.4" fill="#33A02C" stroke="#555" stroke-width="0.3"/>
<text x="610.30" y="158.62" font-size="4.15" text-anchor="start" fill="#111" >5' UTR (0.33%)</text>
<rect x="603.4" y="160.56" width="3.4" height="3.4" fill="#FB9A99" stroke="#555" stroke-width="0.3"/>
<text x="610.30" y="163.86" font-size="4.15" text-anchor="start" fill="#111" >3' UTR (1.37%)</text>
<rect x="603.4" y="165.80" width="3.4" height="3.4" fill="#E31A1C" stroke="#555" stroke-width="0.3"/>
<text x="610.30" y="169.10" font-size="4.15" text-anchor="start" fill="#111" >1st Exon (0.18%)</text>
<rect x="603.4" y="171.04" width="3.4" height="3.4" fill="#FDBF6F" stroke="#555" stroke-width="0.3"/>
<text x="610.30" y="174.34" font-size="4.15" text-anchor="start" fill="#111" >Other Exon (2.75%)</text>
<rect x="603.4" y="176.28" width="3.4" height="3.4" fill="#FF7F00" stroke="#555" stroke-width="0.3"/>
<text x="610.30" y="179.58" font-size="4.15" text-anchor="start" fill="#111" >1st Intron (9.96%)</text>
<rect x="603.4" y="181.52" width="3.4" height="3.4" fill="#CAB2D6" stroke="#555" stroke-width="0.3"/>
<text x="610.30" y="184.82" font-size="4.15" text-anchor="start" fill="#111" >Other Intron (27.05%)</text>
<rect x="603.4" y="186.76" width="3.4" height="3.4" fill="#6A3D9A" stroke="#555" stroke-width="0.3"/>
<text x="610.30" y="190.06" font-size="4.15" text-anchor="start" fill="#111" >Downstream (&lt;=300) (0.06%)</text>
<rect x="603.4" y="192.00" width="3.4" height="3.4" fill="#FFFF99" stroke="#555" stroke-width="0.3"/>
<text x="610.30" y="195.30" font-size="4.15" text-anchor="start" fill="#111" >Distal Intergenic (50.55%)</text>
<rect x="23.1" y="254.3" width="147.3" height="179.8" fill="#fff"/>
<path d="M53.1,254.3V434.1" stroke="#e4e4e4" stroke-width="0.7"/>
<path d="M82.9,254.3V434.1" stroke="#e4e4e4" stroke-width="0.7"/>
<path d="M112.6,254.3V434.1" stroke="#e4e4e4" stroke-width="0.7"/>
<path d="M142.4,254.3V434.1" stroke="#e4e4e4" stroke-width="0.7"/>
<rect x="23.1" y="266.70" width="140.90" height="1.5" fill="#cdc6c8"/>
<rect x="23.7" y="259.90" width="139.90" height="6.7" fill="#f7962b" stroke="#bf7425" stroke-width="0.6"/>
<rect x="23.1" y="275.25" width="120.20" height="1.5" fill="#cdc6c8"/>
<rect x="23.7" y="268.45" width="119.20" height="6.7" fill="#f7962b" stroke="#bf7425" stroke-width="0.6"/>
<rect x="23.1" y="283.80" width="118.90" height="1.5" fill="#cdc6c8"/>
<rect x="23.7" y="277.00" width="117.90" height="6.7" fill="#f7962b" stroke="#bf7425" stroke-width="0.6"/>
<rect x="23.1" y="292.35" width="117.80" height="1.5" fill="#cdc6c8"/>
<rect x="23.7" y="285.55" width="116.80" height="6.7" fill="#f7962b" stroke="#bf7425" stroke-width="0.6"/>
<rect x="23.1" y="300.90" width="112.00" height="1.5" fill="#cdc6c8"/>
<rect x="23.7" y="294.10" width="111.00" height="6.7" fill="#f7962b" stroke="#bf7425" stroke-width="0.6"/>
<rect x="23.1" y="309.45" width="105.90" height="1.5" fill="#cdc6c8"/>
<rect x="23.7" y="302.65" width="104.90" height="6.7" fill="#f7962b" stroke="#bf7425" stroke-width="0.6"/>
<rect x="23.1" y="318.00" width="102.00" height="1.5" fill="#cdc6c8"/>
<rect x="23.7" y="311.20" width="101.00" height="6.7" fill="#f7962b" stroke="#bf7425" stroke-width="0.6"/>
<rect x="23.1" y="326.55" width="99.60" height="1.5" fill="#cdc6c8"/>
<rect x="23.7" y="319.75" width="98.60" height="6.7" fill="#f7962b" stroke="#bf7425" stroke-width="0.6"/>
<rect x="23.1" y="335.10" width="98.30" height="1.5" fill="#cdc6c8"/>
<rect x="23.7" y="328.30" width="97.30" height="6.7" fill="#f7962b" stroke="#bf7425" stroke-width="0.6"/>
<rect x="23.1" y="343.65" width="96.90" height="1.5" fill="#cdc6c8"/>
<rect x="23.7" y="336.85" width="95.90" height="6.7" fill="#f7962b" stroke="#bf7425" stroke-width="0.6"/>
<rect x="23.1" y="352.20" width="95.10" height="1.5" fill="#cdc6c8"/>
<rect x="23.7" y="345.40" width="94.10" height="6.7" fill="#f7962b" stroke="#bf7425" stroke-width="0.6"/>
<rect x="23.1" y="360.75" width="92.70" height="1.5" fill="#cdc6c8"/>
<rect x="23.7" y="353.95" width="91.70" height="6.7" fill="#f7962b" stroke="#bf7425" stroke-width="0.6"/>
<rect x="23.1" y="369.30" width="92.20" height="1.5" fill="#cdc6c8"/>
<rect x="23.7" y="362.50" width="91.20" height="6.7" fill="#f7962b" stroke="#bf7425" stroke-width="0.6"/>
<rect x="23.1" y="377.85" width="90.90" height="1.5" fill="#cdc6c8"/>
<rect x="23.7" y="371.05" width="89.90" height="6.7" fill="#f7962b" stroke="#bf7425" stroke-width="0.6"/>
<rect x="23.1" y="386.40" width="89.00" height="1.5" fill="#cdc6c8"/>
<rect x="23.7" y="379.60" width="88.00" height="6.7" fill="#fcc350" stroke="#c99a50" stroke-width="0.6"/>
<rect x="23.1" y="394.95" width="87.70" height="1.5" fill="#cdc6c8"/>
<rect x="23.7" y="388.15" width="86.70" height="6.7" fill="#fcc350" stroke="#c99a50" stroke-width="0.6"/>
<rect x="23.1" y="403.50" width="86.90" height="1.5" fill="#cdc6c8"/>
<rect x="23.7" y="396.70" width="85.90" height="6.7" fill="#fcc350" stroke="#c99a50" stroke-width="0.6"/>
<rect x="23.1" y="412.05" width="86.10" height="1.5" fill="#cdc6c8"/>
<rect x="23.7" y="405.25" width="85.10" height="6.7" fill="#fcc350" stroke="#c99a50" stroke-width="0.6"/>
<rect x="23.1" y="420.60" width="85.60" height="1.5" fill="#cdc6c8"/>
<rect x="23.7" y="413.80" width="84.60" height="6.7" fill="#fcc350" stroke="#c99a50" stroke-width="0.6"/>
<rect x="23.1" y="429.15" width="85.20" height="1.5" fill="#cdc6c8"/>
<rect x="23.7" y="422.35" width="84.20" height="6.7" fill="#fcc350" stroke="#c99a50" stroke-width="0.6"/>
<rect x="23.1" y="254.3" width="147.3" height="179.8" fill="none" stroke="#555" stroke-width="0.7"/>
<path d="M23.1,434.1v2.2" stroke="#555" stroke-width="0.6"/>
<text x="23.1" y="445.6" font-size="9.2" text-anchor="middle" fill="#333" transform="translate(23.1,445.6) scale(0.52,1) translate(-23.1,-445.6)">0</text>
<path d="M53.1,434.1v2.2" stroke="#555" stroke-width="0.6"/>
<text x="53.1" y="445.6" font-size="9.2" text-anchor="middle" fill="#333" transform="translate(53.1,445.6) scale(0.52,1) translate(-53.1,-445.6)">2</text>
<path d="M82.9,434.1v2.2" stroke="#555" stroke-width="0.6"/>
<text x="82.9" y="445.6" font-size="9.2" text-anchor="middle" fill="#333" transform="translate(82.9,445.6) scale(0.52,1) translate(-82.9,-445.6)">4</text>
<path d="M112.6,434.1v2.2" stroke="#555" stroke-width="0.6"/>
<text x="112.6" y="445.6" font-size="9.2" text-anchor="middle" fill="#333" transform="translate(112.6,445.6) scale(0.52,1) translate(-112.6,-445.6)">6</text>
<path d="M142.6,434.1v2.2" stroke="#555" stroke-width="0.6"/>
<text x="142.6" y="445.6" font-size="9.2" text-anchor="middle" fill="#333" transform="translate(142.6,445.6) scale(0.52,1) translate(-142.6,-445.6)">8</text>
<text x="97.70" y="453.90" font-size="7.6" text-anchor="middle" fill="#222" >-log10(P)</text>
<text x="171.2" y="266.00" font-size="7.2" fill="#111">GO: 0006281: DNA repair</text>
<text x="171.2" y="274.74" font-size="7.3" font-weight="bold" fill="#ff1a1a">GO: 0048511: rhythmic process</text>
<text x="171.2" y="283.48" font-size="7.2" fill="#111">GO:0051052: regulation of DNA metabolic process</text>
<text x="171.2" y="292.22" font-size="7.2" fill="#111">GO:0051607: defense response to virus</text>
<text x="171.2" y="300.96" font-size="7.2" fill="#111">GO:0030522: intracellular receptor signaling pathway</text>
<text x="171.2" y="309.70" font-size="7.2" fill="#111">R-HSA-913531: Interferon Signaling</text>
<text x="171.2" y="318.44" font-size="7.2" fill="#111">GO:0016570: histone modification</text>
<text x="171.2" y="327.18" font-size="7.2" fill="#111">GO:0035455: response to interferon-alpha</text>
<text x="171.2" y="335.92" font-size="7.2" fill="#111">GO:0006338: chromatin remodeling</text>
<text x="171.2" y="344.66" font-size="7.2" fill="#111">GO:0001568: blood vessel development</text>
<text x="171.2" y="353.40" font-size="7.2" fill="#111">GO:0010564: regulation of cell cycle process</text>
<text x="171.2" y="362.14" font-size="7.2" fill="#111">GO:0031589: cell-substrate adhesion</text>
<text x="171.2" y="370.88" font-size="7.2" fill="#111">GO:0071496:cellular responsetoexternal stimulus</text>
<text x="171.2" y="379.62" font-size="7.2" fill="#111">GO:0048608: reproductive structuredevelopment</text>
<text x="171.2" y="388.36" font-size="7.2" fill="#111">R-HSA-3108232: SUMO E3 ligases SUMOylate target</text>
<text x="171.2" y="397.10" font-size="7.2" fill="#111">hsa04621: NOD-like receptor signaling pathway</text>
<text x="171.2" y="405.84" font-size="7.2" fill="#111">GO:0051301: cell division</text>
<text x="171.2" y="414.58" font-size="7.2" fill="#111">GO:0007017: microtubule-based process</text>
<text x="171.2" y="423.32" font-size="7.2" fill="#111">hsa04919:Thyroidhormonesignalingpathway</text>
<text x="171.2" y="432.06" font-size="7.2" fill="#111">GO:0009314: response toradiation</text>
<text x="429.1" y="239.9" font-size="10.4" font-weight="bold">KDM6A<tspan font-size="7.07" dy="-3.60">S829D</tspan><tspan dy="3.60"> VS KDM6A</tspan><tspan font-size="7.07" dy="-3.6">S829A</tspan></text>
<text x="397.40" y="265.10" font-size="10.55" font-weight="bold" text-anchor="start" fill="#000" >RNA-Seq Down</text>
<text x="397.40" y="277.70" font-size="10.55" font-weight="bold" text-anchor="start" fill="#000" >Rhythmmic process</text>
<text x="523.40" y="266.00" font-size="10.55" font-weight="bold" text-anchor="start" fill="#000" >ChIP-Seq Up</text>
<text x="523.40" y="278.50" font-size="10.55" font-weight="bold" text-anchor="start" fill="#000" >H3K27Me3 promoter</text>
<defs><clipPath id="cs"><circle cx="451.1" cy="325.5" r="31"/></clipPath></defs>
<circle cx="512.9" cy="324.7" r="42.6" fill="#fde396"/>
<circle cx="451.1" cy="325.5" r="31" fill="#8393b1"/>
<circle cx="512.9" cy="324.7" r="42.6" fill="#8b8d82" clip-path="url(#cs)"/>
<circle cx="512.9" cy="324.7" r="42.6" fill="none" stroke="#111" stroke-width="1"/>
<circle cx="451.1" cy="325.5" r="31" fill="none" stroke="#111" stroke-width="1"/>
<text x="446.10" y="309.30" font-size="10.2" font-weight="bold" text-anchor="middle" fill="#000" >36</text>
<text x="514.00" y="308.40" font-size="10.2" font-weight="bold" text-anchor="middle" fill="#000" >1458</text>
<text x="475.30" y="329.60" font-size="10.2" font-weight="bold" text-anchor="middle" fill="#000" >4</text>
<path d="M477.9,335.2H597.5" stroke="#111" stroke-width="0.9"/>
<path d="M604.4,335.2 L596.6,331.5 L596.6,338.9Z" fill="#111"/>
<text x="610.60" y="305.00" font-size="10.4" font-weight="bold" text-anchor="start" fill="#ff0000" >PER2</text>
<text x="610.60" y="317.60" font-size="10.4" font-weight="bold" text-anchor="start" fill="#000" >PRKAA2</text>
<text x="610.60" y="330.20" font-size="10.4" font-weight="bold" text-anchor="start" fill="#000" >BHLHE41</text>
<text x="610.60" y="342.80" font-size="10.4" font-weight="bold" text-anchor="start" fill="#000" >PPARA</text>
<rect x="434.9" y="385.4" width="220.7" height="84" fill="#f7f7f7"/>
<text x="469.60" y="392.00" font-size="3.7" font-weight="bold" text-anchor="middle" fill="#555" >330kb</text>
<text x="508.90" y="392.00" font-size="3.7" font-weight="bold" text-anchor="middle" fill="#555" >330kb</text>
<text x="548.40" y="392.00" font-size="3.7" font-weight="bold" text-anchor="middle" fill="#555" >330kb</text>
<text x="587.60" y="392.00" font-size="3.7" font-weight="bold" text-anchor="middle" fill="#555" >330kb</text>
<text x="627.40" y="392.00" font-size="3.7" font-weight="bold" text-anchor="middle" fill="#555" >330kb</text>
<path d="M449.4,394.3v2.9 M468.9,394.3v2.9 M472.0,394.3v2.9 M474.6,394.3v2.9 M476.7,394.3v2.9 M488.7,394.3v2.9 M508.6,394.3v2.9 M522.2,394.3v2.9 M528.0,394.3v2.9 M548.5,394.3v2.9 M567.5,394.3v2.9 M569.6,394.3v2.9 M587.4,394.3v2.9 M607.4,394.3v2.9 M627.5,394.3v2.9 M640.5,394.3v2.9 M647.0,394.3v2.9" stroke="#777" stroke-width="0.55"/>
<path d="M434.9,398.3H655.6" stroke="#999" stroke-width="0.8"/>
<path d="M434.9,401.7H655.6 M434.9,403.5H655.6" stroke="#aaa" stroke-width="0.8"/>
<path d="M434.9,407.8H655.6" stroke="#c4c4c4" stroke-width="0.8"/>
<rect x="434.9" y="408.4" width="220.7" height="25" fill="#fafafa"/>
<rect x="434.9" y="433.9" width="220.7" height="24" fill="#fafafa"/>
<path d="M434.9,433.4H655.6 M434.9,458.0H655.6" stroke="#b0b0b0" stroke-width="0.6"/>
<path d="M435.00,433.4 L435.00,427.32 L435.50,427.19 L436.00,426.30 L436.50,427.55 L437.00,429.18 L437.50,431.13 L437.50,433.4Z M443.90,433.4 L443.90,432.48 L444.40,432.44 L444.90,432.41 L445.40,432.64 L445.90,432.40 L446.40,432.46 L446.90,432.47 L447.40,432.55 L447.90,432.48 L448.40,432.50 L448.90,432.57 L449.40,432.40 L449.90,432.51 L450.40,432.22 L450.90,432.40 L451.20,433.4Z M457.00,433.4 L457.00,431.56 L457.50,431.15 L458.00,431.58 L458.50,431.44 L459.00,431.57 L459.50,431.55 L460.00,431.56 L460.50,431.41 L461.00,431.59 L461.40,433.4Z M462.50,433.4 L462.50,431.92 L463.00,431.94 L463.50,431.97 L464.00,432.05 L464.50,431.92 L465.00,432.00 L465.00,433.4Z M466.50,433.4 L466.50,432.33 L467.00,430.54 L467.50,426.49 L468.00,426.91 L468.50,425.15 L469.00,425.35 L469.50,419.35 L470.00,419.73 L470.50,420.88 L471.00,419.65 L471.50,414.31 L472.00,417.25 L472.50,418.32 L473.00,416.37 L473.50,422.38 L474.00,422.72 L474.50,425.05 L475.00,427.32 L475.50,428.67 L476.00,427.68 L476.50,428.34 L477.00,428.04 L477.50,427.40 L478.00,423.02 L478.50,420.96 L479.00,417.22 L479.50,416.99 L480.00,417.91 L480.50,420.53 L481.00,421.47 L481.50,422.06 L482.00,424.96 L482.50,426.82 L483.00,424.56 L483.50,424.80 L484.00,427.11 L484.50,421.52 L485.00,424.00 L485.50,425.53 L486.00,419.93 L486.50,420.81 L487.00,421.12 L487.50,422.16 L488.00,423.73 L488.50,422.68 L489.00,422.54 L489.50,424.29 L490.00,424.74 L490.50,422.31 L491.00,426.63 L491.50,424.70 L492.00,425.19 L492.50,426.92 L493.00,426.87 L493.50,425.86 L494.00,425.11 L494.50,424.80 L495.00,424.03 L495.50,421.15 L496.00,421.01 L496.50,418.89 L497.00,418.61 L497.50,419.39 L498.00,415.74 L498.50,417.66 L499.00,419.82 L499.50,418.15 L500.00,422.00 L500.50,420.15 L501.00,418.28 L501.50,418.12 L502.00,418.12 L502.50,422.50 L503.00,424.15 L503.50,419.60 L504.00,422.10 L504.50,423.66 L505.00,417.23 L505.50,418.03 L506.00,420.69 L506.50,415.30 L507.00,414.16 L507.50,409.20 L508.00,413.14 L508.50,409.52 L509.00,409.20 L509.50,411.79 L510.00,416.81 L510.50,416.03 L511.00,415.90 L511.50,418.67 L512.00,423.06 L512.50,425.57 L513.00,424.35 L513.50,426.80 L514.00,427.54 L514.50,429.20 L515.00,423.05 L515.50,424.19 L516.00,426.09 L516.50,423.80 L517.00,421.99 L517.50,426.62 L518.00,424.70 L518.50,422.10 L519.00,418.28 L519.50,419.17 L520.00,417.24 L520.50,415.88 L521.00,409.20 L521.50,409.20 L522.00,412.85 L522.50,412.12 L523.00,409.20 L523.50,413.40 L524.00,413.98 L524.50,412.47 L525.00,411.20 L525.50,410.46 L526.00,413.88 L526.50,418.25 L527.00,416.74 L527.50,418.06 L528.00,416.55 L528.50,421.11 L529.00,424.54 L529.50,423.71 L530.00,418.02 L530.50,420.70 L531.00,425.05 L531.50,421.20 L532.00,418.64 L532.50,416.15 L533.00,419.86 L533.50,416.90 L534.00,417.22 L534.50,420.94 L535.00,419.60 L535.50,416.60 L536.00,417.39 L536.50,419.79 L537.00,422.21 L537.50,420.99 L538.00,422.51 L538.50,423.25 L539.00,425.04 L539.50,422.98 L540.00,423.03 L540.50,416.67 L541.00,422.07 L541.50,417.74 L542.00,417.15 L542.50,418.68 L543.00,413.17 L543.50,421.56 L544.00,412.79 L544.50,412.34 L545.00,423.46 L545.50,421.85 L546.00,421.41 L546.50,425.29 L547.00,425.65 L547.50,424.69 L548.00,424.63 L548.50,423.82 L549.00,424.43 L549.50,426.47 L550.00,426.36 L550.50,425.94 L551.00,425.53 L551.50,426.81 L552.00,426.40 L552.50,427.08 L553.00,429.90 L553.50,427.87 L554.00,426.52 L554.50,427.33 L555.00,428.14 L555.50,428.78 L556.00,427.94 L556.50,427.71 L557.00,428.12 L557.50,428.51 L558.00,427.45 L558.50,426.87 L559.00,427.84 L559.50,428.09 L560.00,428.08 L560.50,427.00 L561.00,429.26 L561.50,429.23 L562.00,429.52 L562.50,430.38 L563.00,430.71 L563.50,427.64 L564.00,427.88 L564.50,428.96 L565.00,423.24 L565.50,423.38 L566.00,420.33 L566.50,422.94 L567.00,416.22 L567.50,419.46 L568.00,422.38 L568.50,423.72 L569.00,425.43 L569.50,424.34 L570.00,422.53 L570.50,423.43 L571.00,417.57 L571.50,421.56 L572.00,421.88 L572.50,421.18 L573.00,426.33 L573.50,422.20 L574.00,424.28 L574.50,425.45 L575.00,424.49 L575.50,426.12 L576.00,424.18 L576.50,426.80 L577.00,427.17 L577.50,427.57 L578.00,425.20 L578.50,424.16 L579.00,426.49 L579.50,426.85 L580.00,422.91 L580.50,425.89 L581.00,422.12 L581.50,422.05 L582.00,421.77 L582.50,421.68 L583.00,417.74 L583.50,418.59 L584.00,419.78 L584.50,418.87 L585.00,418.17 L585.50,423.48 L586.00,426.05 L586.50,426.26 L587.00,427.44 L587.50,427.16 L588.00,427.83 L588.50,428.96 L589.00,427.28 L589.50,431.60 L590.00,430.31 L590.50,429.53 L591.00,430.97 L591.50,432.43 L592.00,431.59 L592.50,432.31 L593.00,432.62 L593.50,432.26 L594.00,433.36 L594.50,432.83 L595.00,433.09 L595.00,433.4Z M606.80,433.4 L606.80,430.42 L607.30,430.11 L607.80,430.72 L608.30,430.34 L608.80,430.57 L609.30,430.56 L609.80,430.67 L610.30,430.46 L610.80,430.68 L611.30,430.56 L611.80,430.23 L612.00,433.4Z M613.00,433.4 L613.00,431.66 L613.50,431.89 L614.00,431.21 L614.50,431.61 L615.00,431.84 L615.50,431.45 L616.00,431.23 L616.50,431.45 L617.00,431.43 L617.50,431.58 L618.00,431.35 L618.50,431.67 L619.00,431.80 L619.50,431.63 L620.00,431.80 L620.50,431.66 L621.00,431.59 L621.50,431.78 L622.00,432.01 L622.50,432.02 L623.00,431.99 L623.50,432.16 L624.00,432.29 L624.50,432.33 L625.00,432.23 L625.50,432.27 L626.00,432.50 L626.00,433.4Z M633.00,433.4 L633.00,431.18 L633.50,431.25 L634.00,430.42 L634.50,428.86 L635.00,429.31 L635.50,428.58 L636.00,427.94 L636.50,427.61 L637.00,427.91 L637.50,426.79 L638.00,427.03 L638.50,424.99 L639.00,422.63 L639.50,425.69 L640.00,426.94 L640.50,425.34 L641.00,427.54 L641.50,427.57 L642.00,427.41 L642.50,427.22 L643.00,427.92 L643.50,427.75 L644.00,425.70 L644.50,427.75 L645.00,428.96 L645.50,429.09 L646.00,426.63 L646.50,429.02 L647.00,426.89 L647.50,426.58 L648.00,427.71 L648.50,428.97 L649.00,429.15 L649.50,428.88 L650.00,429.73 L650.50,430.11 L651.00,428.67 L651.50,430.24 L652.00,426.98 L652.50,427.96 L653.00,428.68 L653.50,426.70 L654.00,425.94 L654.50,427.74 L655.00,428.20 L655.50,428.77 L655.60,433.4Z" fill="#0606f4"/>
<path d="M435.00,458.0 L435.00,455.94 L435.50,455.99 L436.00,455.72 L436.50,455.63 L437.00,455.18 L437.50,455.51 L438.00,455.58 L438.50,455.76 L439.00,456.10 L439.50,456.63 L439.50,458.0Z M444.30,458.0 L444.30,457.05 L444.80,455.85 L445.30,455.00 L445.80,453.70 L446.30,452.89 L446.80,451.63 L447.30,450.17 L447.80,449.37 L448.30,448.47 L448.80,446.65 L449.30,447.53 L449.80,448.19 L450.30,448.39 L450.80,450.84 L451.30,452.94 L451.80,453.85 L452.30,455.35 L452.80,456.27 L453.20,458.0Z M457.00,458.0 L457.00,455.31 L457.50,456.47 L458.00,456.30 L458.50,455.80 L459.00,454.72 L459.50,456.29 L460.00,454.88 L460.50,455.16 L461.00,454.95 L461.50,455.12 L462.00,455.58 L462.50,455.47 L463.00,455.22 L463.50,453.37 L464.00,452.12 L464.50,453.24 L465.00,454.25 L465.50,454.43 L466.00,453.10 L466.50,451.63 L467.00,450.29 L467.50,448.21 L468.00,447.41 L468.50,448.15 L469.00,449.72 L469.50,444.53 L470.00,448.23 L470.50,443.17 L471.00,440.51 L471.50,444.03 L472.00,439.43 L472.50,441.54 L473.00,437.92 L473.50,443.20 L474.00,449.34 L474.50,446.06 L475.00,446.95 L475.50,449.32 L476.00,450.47 L476.50,449.61 L477.00,449.84 L477.50,450.91 L478.00,452.46 L478.50,452.28 L479.00,453.74 L479.50,454.84 L480.00,453.33 L480.50,454.14 L481.00,453.28 L481.50,452.52 L482.00,454.11 L482.50,455.32 L483.00,456.00 L483.50,455.99 L484.00,455.36 L484.50,455.49 L485.00,452.75 L485.50,454.10 L486.00,452.67 L486.50,449.53 L487.00,452.88 L487.50,452.21 L488.00,452.56 L488.50,452.77 L489.00,452.89 L489.50,452.00 L490.00,451.26 L490.50,452.88 L491.00,452.67 L491.50,453.21 L492.00,452.70 L492.50,451.64 L493.00,451.27 L493.50,451.77 L494.00,451.02 L494.50,451.42 L495.00,447.35 L495.50,446.65 L496.00,443.84 L496.50,446.95 L497.00,438.26 L497.50,445.14 L498.00,444.30 L498.50,437.36 L499.00,439.92 L499.50,434.60 L500.00,437.89 L500.50,442.05 L501.00,438.17 L501.50,440.00 L502.00,434.60 L502.50,434.60 L503.00,437.05 L503.50,439.13 L504.00,437.76 L504.50,434.99 L505.00,440.51 L505.50,440.41 L506.00,434.78 L506.50,434.90 L507.00,438.09 L507.50,438.25 L508.00,445.27 L508.50,436.81 L509.00,441.63 L509.50,445.57 L510.00,445.90 L510.50,445.07 L511.00,441.56 L511.50,444.85 L512.00,449.14 L512.50,443.88 L513.00,444.95 L513.50,449.63 L514.00,453.11 L514.50,448.27 L515.00,450.25 L515.50,448.90 L516.00,448.13 L516.50,444.21 L517.00,441.54 L517.50,441.65 L518.00,442.80 L518.50,441.45 L519.00,440.53 L519.50,445.63 L520.00,436.01 L520.50,439.64 L521.00,438.85 L521.50,437.30 L522.00,434.60 L522.50,434.60 L523.00,434.60 L523.50,438.18 L524.00,441.62 L524.50,440.14 L525.00,443.08 L525.50,440.14 L526.00,445.72 L526.50,444.62 L527.00,444.01 L527.50,444.89 L528.00,445.93 L528.50,444.31 L529.00,446.08 L529.50,450.79 L530.00,449.29 L530.50,449.88 L531.00,450.60 L531.50,451.85 L532.00,451.93 L532.50,452.92 L533.00,453.44 L533.50,452.68 L534.00,453.59 L534.50,454.83 L535.00,455.64 L535.50,455.23 L536.00,456.16 L536.50,455.87 L537.00,456.22 L537.50,456.61 L538.00,456.81 L538.50,456.30 L539.00,456.03 L539.50,454.67 L540.00,454.33 L540.50,451.83 L541.00,450.53 L541.50,451.16 L542.00,453.70 L542.50,448.28 L543.00,449.58 L543.50,449.54 L544.00,450.59 L544.50,449.30 L545.00,447.89 L545.50,449.35 L546.00,448.39 L546.50,450.60 L547.00,451.24 L547.50,450.08 L548.00,451.75 L548.50,451.01 L549.00,453.40 L549.50,451.55 L550.00,450.11 L550.50,451.21 L551.00,450.99 L551.50,450.14 L552.00,450.98 L552.50,449.18 L553.00,452.15 L553.50,451.10 L554.00,451.34 L554.50,452.90 L555.00,453.54 L555.50,451.25 L556.00,452.73 L556.50,450.67 L557.00,452.35 L557.50,452.17 L558.00,451.63 L558.50,452.04 L559.00,451.61 L559.50,453.42 L560.00,452.76 L560.50,451.39 L561.00,450.03 L561.50,447.88 L562.00,447.59 L562.50,448.01 L563.00,447.16 L563.50,443.09 L564.00,446.65 L564.50,448.64 L565.00,451.77 L565.50,455.75 L566.00,456.21 L566.50,455.67 L567.00,455.34 L567.50,455.11 L568.00,456.62 L568.50,456.31 L569.00,455.80 L569.50,457.17 L570.00,457.17 L570.50,456.05 L571.00,455.92 L571.50,455.79 L572.00,457.34 L572.50,456.58 L573.00,456.65 L573.50,456.56 L574.00,455.63 L574.50,455.50 L575.00,455.18 L575.50,455.88 L576.00,456.74 L576.50,456.25 L577.00,456.04 L577.50,457.57 L578.00,457.07 L578.50,457.31 L579.00,457.36 L579.50,455.94 L580.00,456.19 L580.50,455.46 L581.00,455.90 L581.50,456.19 L582.00,456.02 L582.50,455.73 L583.00,455.54 L583.50,454.94 L584.00,455.49 L584.50,452.85 L585.00,449.91 L585.50,449.95 L586.00,450.41 L586.50,450.56 L587.00,449.92 L587.30,458.0Z M601.80,458.0 L601.80,455.98 L602.30,456.31 L602.80,456.12 L603.30,456.07 L603.80,456.25 L604.30,455.87 L604.80,455.99 L605.30,456.25 L605.80,455.99 L606.00,458.0Z M606.60,458.0 L606.60,453.14 L607.10,453.63 L607.60,453.07 L608.10,453.61 L608.60,453.42 L609.10,453.44 L609.60,453.55 L610.10,453.29 L610.60,453.57 L611.10,453.06 L611.60,453.30 L612.10,453.28 L612.60,452.85 L612.70,458.0Z M633.00,458.0 L633.00,457.36 L633.50,456.33 L634.00,454.85 L634.50,453.79 L635.00,451.21 L635.50,452.19 L636.00,453.98 L636.50,451.05 L637.00,451.92 L637.50,451.60 L638.00,450.01 L638.50,450.40 L639.00,448.63 L639.50,449.27 L640.00,448.82 L640.50,450.04 L641.00,450.68 L641.50,452.05 L642.00,453.30 L642.50,452.78 L643.00,451.80 L643.50,450.10 L644.00,452.02 L644.50,451.23 L645.00,448.79 L645.50,445.96 L646.00,447.93 L646.50,450.18 L647.00,449.05 L647.50,450.28 L648.00,451.48 L648.50,450.94 L649.00,453.48 L649.50,453.57 L650.00,453.38 L650.50,452.42 L651.00,455.78 L651.50,455.67 L652.00,454.63 L652.30,458.0Z" fill="#0606f4"/>
<path d="M435.5,463.7H587.9" stroke="#2020c0" stroke-width="0.7"/>
<path d="M438.0,462.9v1.6 M441.3,462.9v1.6 M444.6,462.9v1.6 M447.9,462.9v1.6 M451.2,462.9v1.6 M454.5,462.9v1.6 M457.8,462.9v1.6 M461.1,462.9v1.6 M464.4,462.9v1.6 M467.7,462.9v1.6 M471.0,462.9v1.6 M474.3,462.9v1.6 M477.6,462.9v1.6 M480.9,462.9v1.6 M484.2,462.9v1.6 M487.5,462.9v1.6 M490.8,462.9v1.6 M494.1,462.9v1.6 M497.4,462.9v1.6 M500.7,462.9v1.6 M504.0,462.9v1.6 M507.3,462.9v1.6 M510.6,462.9v1.6 M513.9,462.9v1.6 M517.2,462.9v1.6 M520.5,462.9v1.6 M523.8,462.9v1.6 M527.1,462.9v1.6 M530.4,462.9v1.6 M533.7,462.9v1.6 M537.0,462.9v1.6 M540.3,462.9v1.6 M543.6,462.9v1.6 M546.9,462.9v1.6 M550.2,462.9v1.6 M553.5,462.9v1.6 M556.8,462.9v1.6 M560.1,462.9v1.6 M563.4,462.9v1.6 M566.7,462.9v1.6 M570.0,462.9v1.6 M573.3,462.9v1.6 M576.6,462.9v1.6 M579.9,462.9v1.6 M583.2,462.9v1.6" stroke="#2020c0" stroke-width="0.6"/>
<rect x="555.8" y="462.1" width="2.2" height="3.2" fill="#2020c0"/><rect x="560.9" y="462.1" width="2.2" height="3.2" fill="#2020c0"/><rect x="583.8" y="462.0" width="4.6" height="3.4" fill="#2020c0"/>
<text x="517.00" y="473.80" font-size="6.8" text-anchor="middle" fill="#222" >PER2</text>
<rect x="437.9" y="409.2" width="17.9" height="55.2" fill="none" stroke="#ee1111" stroke-width="1.1"/>
<rect x="599.2" y="409.2" width="17.9" height="55.2" fill="none" stroke="#ee1111" stroke-width="1.1"/>
<rect x="635.1" y="409.2" width="17.5" height="55.2" fill="none" stroke="#ee1111" stroke-width="1.1"/>
<text x="382.4" y="422.5" font-size="9.3">KDM6A<tspan font-size="6.05" dy="-3.20">S829A</tspan></text>
<text x="382.4" y="451.4" font-size="9.3">KDM6A<tspan font-size="6.05" dy="-3.20">S829D</tspan></text>
<text x="105.90" y="525.60" font-size="10.3" font-weight="bold" text-anchor="middle" fill="#000" >PER2</text>
<path d="M49.3,539.5V649.7H160.1" fill="none" stroke="#111" stroke-width="1.1"/>
<path d="M46.8,649.70H49.3 M46.8,613.10H49.3 M46.8,576.50H49.3 M46.8,539.90H49.3" stroke="#111" stroke-width="1"/>
<path d="M55.70,649.7V652.2 M73.70,649.7V652.2 M91.70,649.7V652.2 M109.70,649.7V652.2 M127.70,649.7V652.2 M145.70,649.7V652.2" stroke="#111" stroke-width="1"/>
<path d="M64.70,649.7V651.2 M82.70,649.7V651.2 M100.70,649.7V651.2 M118.70,649.7V651.2 M136.70,649.7V651.2 M154.70,649.7V651.2" stroke="#111" stroke-width="0.8"/>
<text x="45.80" y="652.70" font-size="8.4" font-weight="bold" text-anchor="end" fill="#000" >0.0</text>
<text x="45.80" y="616.10" font-size="8.4" font-weight="bold" text-anchor="end" fill="#000" >0.5</text>
<text x="45.80" y="579.50" font-size="8.4" font-weight="bold" text-anchor="end" fill="#000" >1.0</text>
<text x="45.80" y="542.90" font-size="8.4" font-weight="bold" text-anchor="end" fill="#000" >1.5</text>
<text x="55.70" y="662.00" font-size="8.4" font-weight="bold" text-anchor="middle" fill="#000" >0</text>
<text x="73.70" y="662.00" font-size="8.4" font-weight="bold" text-anchor="middle" fill="#000" >4</text>
<text x="91.70" y="662.00" font-size="8.4" font-weight="bold" text-anchor="middle" fill="#000" >8</text>
<text x="109.70" y="662.00" font-size="8.4" font-weight="bold" text-anchor="middle" fill="#000" >12</text>
<text x="127.70" y="662.00" font-size="8.4" font-weight="bold" text-anchor="middle" fill="#000" >16</text>
<text x="145.70" y="662.00" font-size="8.4" font-weight="bold" text-anchor="middle" fill="#000" >20</text>
<text x="105.70" y="675.90" font-size="9.0" font-weight="bold" text-anchor="middle" fill="#000" >Time(h)</text>
<text transform="translate(28.7,594.8) rotate(-90)" font-size="9.1" font-weight="bold" text-anchor="middle">Relative mRNA level</text>
<rect x="54.6" y="641.0" width="54.2" height="6.2" fill="#fff" stroke="#111" stroke-width="0.7"/>
<rect x="108.8" y="640.7" width="50.9" height="6.8" fill="#000"/>
<text x="82.00" y="645.80" font-size="5.2" text-anchor="middle" fill="#111" >Light</text>
<path d="M55.70,585.50 L64.70,585.50 L73.70,601.61 L82.70,595.02 L91.70,613.10 L100.70,611.64 L109.70,618.22 L118.70,621.15 L127.70,625.91 L136.70,622.62 L145.70,619.69 L154.70,611.64" fill="none" stroke="#a80000" stroke-width="1.45"/>
<path d="M55.70,583.31V587.70M54.20,583.31h3M54.20,587.70h3 M64.70,582.58V588.43M63.20,582.58h3M63.20,588.43h3 M73.70,597.22V606.00M72.20,597.22h3M72.20,606.00h3 M82.70,593.56V596.48M81.20,593.56h3M81.20,596.48h3 M91.70,610.90V615.30M90.20,610.90h3M90.20,615.30h3 M100.70,610.90V612.37M99.20,610.90h3M99.20,612.37h3 M109.70,616.03V620.42M108.20,616.03h3M108.20,620.42h3 M118.70,620.42V621.88M117.20,620.42h3M117.20,621.88h3 M127.70,624.45V627.37M126.20,624.45h3M126.20,627.37h3 M136.70,619.69V625.54M135.20,619.69h3M135.20,625.54h3 M145.70,618.22V621.15M144.20,618.22h3M144.20,621.15h3 M154.70,609.44V613.83M153.20,609.44h3M153.20,613.83h3" stroke="#a80000" stroke-width="0.9" fill="none"/>
<path d="M55.70,583.30L57.80,587.00L53.60,587.00Z" fill="#a80000"/>
<path d="M64.70,583.30L66.80,587.00L62.60,587.00Z" fill="#a80000"/>
<path d="M73.70,599.41L75.80,603.11L71.60,603.11Z" fill="#a80000"/>
<path d="M82.70,592.82L84.80,596.52L80.60,596.52Z" fill="#a80000"/>
<path d="M91.70,610.90L93.80,614.60L89.60,614.60Z" fill="#a80000"/>
<path d="M100.70,609.44L102.80,613.14L98.60,613.14Z" fill="#a80000"/>
<path d="M109.70,616.02L111.80,619.72L107.60,619.72Z" fill="#a80000"/>
<path d="M118.70,618.95L120.80,622.65L116.60,622.65Z" fill="#a80000"/>
<path d="M127.70,623.71L129.80,627.41L125.60,627.41Z" fill="#a80000"/>
<path d="M136.70,620.42L138.80,624.12L134.60,624.12Z" fill="#a80000"/>
<path d="M145.70,617.49L147.80,621.19L143.60,621.19Z" fill="#a80000"/>
<path d="M154.70,609.44L156.80,613.14L152.60,613.14Z" fill="#a80000"/>
<path d="M55.70,576.50 L64.70,556.37 L73.70,574.30 L82.70,586.02 L91.70,566.25 L100.70,576.87 L109.70,585.65 L118.70,590.41 L127.70,598.83 L136.70,602.12 L145.70,587.48 L154.70,590.41" fill="none" stroke="#00008b" stroke-width="1.45"/>
<path d="M55.70,574.30V578.70M54.20,574.30h3M54.20,578.70h3 M64.70,553.44V559.30M63.20,553.44h3M63.20,559.30h3 M73.70,567.72V580.89M72.20,567.72h3M72.20,580.89h3 M82.70,585.28V586.75M81.20,585.28h3M81.20,586.75h3 M91.70,561.13V571.38M90.20,561.13h3M90.20,571.38h3 M100.70,574.67V579.06M99.20,574.67h3M99.20,579.06h3 M109.70,581.26V590.04M108.20,581.26h3M108.20,590.04h3 M118.70,586.02V594.80M117.20,586.02h3M117.20,594.80h3 M127.70,592.24V605.41M126.20,592.24h3M126.20,605.41h3 M136.70,601.39V602.85M135.20,601.39h3M135.20,602.85h3 M145.70,583.09V591.87M144.20,583.09h3M144.20,591.87h3 M154.70,588.21V592.60M153.20,588.21h3M153.20,592.60h3" stroke="#00008b" stroke-width="0.9" fill="none"/>
<rect x="53.90" y="574.70" width="3.6" height="3.6" fill="#00008b"/>
<rect x="62.90" y="554.57" width="3.6" height="3.6" fill="#00008b"/>
<rect x="71.90" y="572.50" width="3.6" height="3.6" fill="#00008b"/>
<rect x="80.90" y="584.22" width="3.6" height="3.6" fill="#00008b"/>
<rect x="89.90" y="564.45" width="3.6" height="3.6" fill="#00008b"/>
<rect x="98.90" y="575.07" width="3.6" height="3.6" fill="#00008b"/>
<rect x="107.90" y="583.85" width="3.6" height="3.6" fill="#00008b"/>
<rect x="116.90" y="588.61" width="3.6" height="3.6" fill="#00008b"/>
<rect x="125.90" y="597.03" width="3.6" height="3.6" fill="#00008b"/>
<rect x="134.90" y="600.32" width="3.6" height="3.6" fill="#00008b"/>
<rect x="143.90" y="585.68" width="3.6" height="3.6" fill="#00008b"/>
<rect x="152.90" y="588.61" width="3.6" height="3.6" fill="#00008b"/>
<path d="M75.6,541H87.3" stroke="#00008b" stroke-width="1.3"/><rect x="80" y="539.5" width="3" height="3" fill="#00008b"/>
<path d="M75.6,555.7H87.3" stroke="#a80000" stroke-width="1.3"/><path d="M81.5,553.8L83.3,557L79.7,557Z" fill="#a80000"/>
<text x="93.9" y="545.0" font-size="9.6" fill="#111">KDM6A<tspan font-size="6.34" dy="-3.40">S829A</tspan></text>
<text x="93.9" y="559.6" font-size="9.6" fill="#111">KDM6A<tspan font-size="6.34" dy="-3.40">S829D</tspan></text>
<g transform="translate(0,0)">
<rect x="182.3" y="510.0" width="250.4" height="9.2" fill="#f8f8f8"/>
<path d="M190.2,514.2H386.9" fill="none" stroke="#6a6ad6" stroke-width="0.7"/>
<path d="M387.0,514.5V502.6H352.0" fill="none" stroke="#1212b0" stroke-width="1.5" stroke-linejoin="miter" stroke-linecap="butt"/>
<path d="M345.4,502.3L353.8,498.4L353.8,506.0Z" fill="#1212b0"/>
<rect x="190.2" y="512.4000000000001" width="10.6" height="3.6" fill="#0a0aa8"/>
<path d="M200.6,511.6V516.8000000000001" stroke="#0a0aa8" stroke-width="0.9"/>
<rect x="229.6" y="511.80000000000007" width="3" height="4.8" fill="#1212b0"/>
<path d="M212.4,511.50000000000006V516.5 M219.4,511.50000000000006V516.5 M223.8,511.50000000000006V516.5 M242.2,511.50000000000006V516.5 M247.4,511.50000000000006V516.5 M253.9,511.50000000000006V516.5 M260.9,511.50000000000006V516.5 M264.4,511.50000000000006V516.5 M268.5,511.50000000000006V516.5 M270.2,511.50000000000006V516.5 M271.4,511.50000000000006V516.5 M274.6,511.50000000000006V516.5 M285.5,511.50000000000006V516.5 M296.5,511.50000000000006V516.5 M300.2,511.50000000000006V516.5 M311.4,511.50000000000006V516.5 M318.9,511.50000000000006V516.5 M330.3,511.50000000000006V516.5 M337.0,511.50000000000006V516.5 M338.7,511.50000000000006V516.5" stroke="#1212b0" stroke-width="1.0"/>
<path d="M207.2,513.3000000000001V514.9000000000001 M280.7,513.3000000000001V514.9000000000001 M291.2,513.3000000000001V514.9000000000001 M306.6,513.3000000000001V514.9000000000001 M325.9,513.3000000000001V514.9000000000001 M346.4,513.3000000000001V514.9000000000001 M358.3,513.3000000000001V514.9000000000001 M369.7,513.3000000000001V514.9000000000001 M380.2,513.3000000000001V514.9000000000001" stroke="#1212b0" stroke-width="0.9"/>
<rect x="386.2" y="518.4" width="3.8" height="4.4" fill="#ff1010"/>
<rect x="392.6" y="518.4" width="3.8" height="4.4" fill="#ff1010"/>
<rect x="404.2" y="518.4" width="3.8" height="4.4" fill="#ff1010"/>
<rect x="410.4" y="518.4" width="3.8" height="4.4" fill="#ff1010"/>
<text x="385.40" y="538.60" font-size="13.4" text-anchor="start" fill="#000" >ab</text>
<text x="403.80" y="538.60" font-size="13.4" text-anchor="start" fill="#000" >cd</text>
<text x="287.40" y="533.20" font-size="10.2" font-weight="bold" text-anchor="start" fill="#000" >PER2</text>
</g>
<g transform="translate(0,-1.1)">
<rect x="434.5" y="510.0" width="250.5" height="9.2" fill="#f8f8f8"/>
<path d="M442.2,514.2H638.9" fill="none" stroke="#6a6ad6" stroke-width="0.7"/>
<path d="M639.0,514.5V502.6H604.0" fill="none" stroke="#1212b0" stroke-width="1.5" stroke-linejoin="miter" stroke-linecap="butt"/>
<path d="M597.4,502.3L605.8,498.4L605.8,506.0Z" fill="#1212b0"/>
<rect x="442.2" y="512.4000000000001" width="10.6" height="3.6" fill="#0a0aa8"/>
<path d="M452.6,511.6V516.8000000000001" stroke="#0a0aa8" stroke-width="0.9"/>
<rect x="481.6" y="511.80000000000007" width="3" height="4.8" fill="#1212b0"/>
<path d="M464.4,511.50000000000006V516.5 M471.4,511.50000000000006V516.5 M475.8,511.50000000000006V516.5 M494.2,511.50000000000006V516.5 M499.4,511.50000000000006V516.5 M505.9,511.50000000000006V516.5 M512.9,511.50000000000006V516.5 M516.4,511.50000000000006V516.5 M520.5,511.50000000000006V516.5 M522.2,511.50000000000006V516.5 M523.4,511.50000000000006V516.5 M526.6,511.50000000000006V516.5 M537.5,511.50000000000006V516.5 M548.5,511.50000000000006V516.5 M552.2,511.50000000000006V516.5 M563.4,511.50000000000006V516.5 M570.9,511.50000000000006V516.5 M582.3,511.50000000000006V516.5 M589.0,511.50000000000006V516.5 M590.7,511.50000000000006V516.5" stroke="#1212b0" stroke-width="1.0"/>
<path d="M459.2,513.3000000000001V514.9000000000001 M532.7,513.3000000000001V514.9000000000001 M543.2,513.3000000000001V514.9000000000001 M558.6,513.3000000000001V514.9000000000001 M577.9,513.3000000000001V514.9000000000001 M598.4,513.3000000000001V514.9000000000001 M610.3,513.3000000000001V514.9000000000001 M621.7,513.3000000000001V514.9000000000001 M632.2,513.3000000000001V514.9000000000001" stroke="#1212b0" stroke-width="0.9"/>
<rect x="638.2" y="518.4" width="3.8" height="4.4" fill="#ff1010"/>
<rect x="644.6" y="518.4" width="3.8" height="4.4" fill="#ff1010"/>
<rect x="656.2" y="518.4" width="3.8" height="4.4" fill="#ff1010"/>
<rect x="662.4" y="518.4" width="3.8" height="4.4" fill="#ff1010"/>
<text x="637.40" y="538.60" font-size="13.4" text-anchor="start" fill="#000" >ab</text>
<text x="655.80" y="538.60" font-size="13.4" text-anchor="start" fill="#000" >cd</text>
<text x="539.40" y="533.20" font-size="10.2" font-weight="bold" text-anchor="start" fill="#000" >PER2</text>
</g>
<text x="255.40" y="555.50" font-size="9.6" text-anchor="middle" fill="#111" >H3K27me3</text>
<text x="508.20" y="553.60" font-size="9.6" text-anchor="middle" fill="#111" >H3K27me3</text>
<text x="375.00" y="548.00" font-size="10.6" text-anchor="middle" fill="#111" >H3K4me1</text>
<text x="629.40" y="547.00" font-size="10.6" text-anchor="middle" fill="#111" >H3K4me1</text>
<rect x="214.40" y="652.84" width="4.10" height="1.56" fill="#000" stroke="#111" stroke-width="0.5"/>
<path d="M216.45,652.84V652.50M214.85,652.50h3.2" stroke="#111" stroke-width="0.8"/>
<rect x="222.40" y="645.75" width="5.20" height="8.65" fill="#ff0000" stroke="#111" stroke-width="0.5"/>
<path d="M225.00,645.75V643.15M223.40,643.15h3.2" stroke="#111" stroke-width="0.8"/>
<text x="225.00" y="642.90" font-size="6.2" text-anchor="middle" fill="#111" >**</text>
<rect x="237.10" y="653.02" width="4.10" height="1.38" fill="#000" stroke="#111" stroke-width="0.5"/>
<path d="M239.15,653.02V652.84M237.55,652.84h3.2" stroke="#111" stroke-width="0.8"/>
<rect x="245.10" y="579.14" width="5.20" height="75.25" fill="#ff0000" stroke="#111" stroke-width="0.5"/>
<path d="M247.70,579.14V572.23M246.10,572.23h3.2" stroke="#111" stroke-width="0.8"/>
<text x="247.70" y="572.30" font-size="6.2" text-anchor="middle" fill="#111" >***</text>
<rect x="259.80" y="652.67" width="4.10" height="1.73" fill="#000" stroke="#111" stroke-width="0.5"/>
<path d="M261.85,652.67V652.15M260.25,652.15h3.2" stroke="#111" stroke-width="0.8"/>
<rect x="267.80" y="644.19" width="5.20" height="10.21" fill="#ff0000" stroke="#111" stroke-width="0.5"/>
<path d="M270.40,644.19V641.42M268.80,641.42h3.2" stroke="#111" stroke-width="0.8"/>
<text x="270.40" y="641.10" font-size="6.2" text-anchor="middle" fill="#111" >**</text>
<rect x="282.60" y="653.02" width="4.10" height="1.38" fill="#000" stroke="#111" stroke-width="0.5"/>
<path d="M284.65,653.02V652.84M283.05,652.84h3.2" stroke="#111" stroke-width="0.8"/>
<rect x="290.60" y="631.91" width="5.20" height="22.49" fill="#ff0000" stroke="#111" stroke-width="0.5"/>
<path d="M293.20,631.91V629.66M291.60,629.66h3.2" stroke="#111" stroke-width="0.8"/>
<text x="293.20" y="628.80" font-size="6.2" text-anchor="middle" fill="#111" >***</text>
<path d="M211.4,567.4V654.4" fill="none" stroke="#7c7c7c" stroke-width="1.2"/>
<path d="M210.9,654.4H297.3" fill="none" stroke="#111" stroke-width="1.1"/>
<path d="M209.1,654.40H211.4 M209.1,637.10H211.4 M209.1,619.80H211.4 M209.1,602.50H211.4 M209.1,585.20H211.4 M209.1,567.90H211.4" stroke="#111" stroke-width="0.9"/>
<text x="208.80" y="656.70" font-size="6.6" text-anchor="end" fill="#111" >0</text>
<text x="208.80" y="639.40" font-size="6.6" text-anchor="end" fill="#111" >10</text>
<text x="208.80" y="622.10" font-size="6.6" text-anchor="end" fill="#111" >20</text>
<text x="208.80" y="604.80" font-size="6.6" text-anchor="end" fill="#111" >30</text>
<text x="208.80" y="587.50" font-size="6.6" text-anchor="end" fill="#111" >40</text>
<text x="208.80" y="570.20" font-size="6.6" text-anchor="end" fill="#111" >50</text>
<path d="M221.00,654.4v2.2 M243.70,654.4v2.2 M266.40,654.4v2.2 M289.20,654.4v2.2" stroke="#111" stroke-width="0.9"/>
<text transform="translate(224.00,661.70) rotate(-45)" font-size="7" font-weight="bold" text-anchor="end" fill="#111">PER2-a</text>
<text transform="translate(246.70,661.70) rotate(-45)" font-size="7" font-weight="bold" text-anchor="end" fill="#111">PER2-b</text>
<text transform="translate(269.40,661.70) rotate(-45)" font-size="7" font-weight="bold" text-anchor="end" fill="#111">PER2-c</text>
<text transform="translate(292.20,661.70) rotate(-45)" font-size="7" font-weight="bold" text-anchor="end" fill="#111">PER2-d</text>
<text transform="translate(196.60,611.20) rotate(-90)" font-size="7.05" font-weight="bold" text-anchor="middle" fill="#111">Fold of Input DNA</text>
<rect x="329.80" y="625.31" width="5.60" height="29.99" fill="#000" stroke="#111" stroke-width="0.5"/>
<path d="M332.60,625.31V620.41M331.00,620.41h3.2" stroke="#111" stroke-width="0.8"/>
<rect x="338.10" y="620.70" width="5.50" height="34.60" fill="#ff0000" stroke="#111" stroke-width="0.5"/>
<path d="M340.85,620.70V605.42M339.25,605.42h3.2" stroke="#111" stroke-width="0.8"/>
<rect x="352.30" y="624.16" width="5.60" height="31.14" fill="#000" stroke="#111" stroke-width="0.5"/>
<path d="M355.10,624.16V615.80M353.50,615.80h3.2" stroke="#111" stroke-width="0.8"/>
<rect x="360.60" y="624.16" width="5.50" height="31.14" fill="#ff0000" stroke="#111" stroke-width="0.5"/>
<path d="M363.35,624.16V619.26M361.75,619.26h3.2" stroke="#111" stroke-width="0.8"/>
<rect x="374.60" y="618.68" width="5.60" height="36.62" fill="#000" stroke="#111" stroke-width="0.5"/>
<path d="M377.40,618.68V604.26M375.80,604.26h3.2" stroke="#111" stroke-width="0.8"/>
<rect x="382.90" y="641.17" width="5.50" height="14.13" fill="#ff0000" stroke="#111" stroke-width="0.5"/>
<path d="M385.65,641.17V636.85M384.05,636.85h3.2" stroke="#111" stroke-width="0.8"/>
<rect x="397.40" y="626.47" width="5.60" height="28.83" fill="#000" stroke="#111" stroke-width="0.5"/>
<path d="M400.20,626.47V624.45M398.60,624.45h3.2" stroke="#111" stroke-width="0.8"/>
<rect x="405.70" y="592.44" width="5.50" height="62.86" fill="#ff0000" stroke="#111" stroke-width="0.5"/>
<path d="M408.45,592.44V574.57M406.85,574.57h3.2" stroke="#111" stroke-width="0.8"/>
<path d="M326.8,568.3V655.3" fill="none" stroke="#111" stroke-width="1.2"/>
<path d="M326.3,655.3H413.8" fill="none" stroke="#111" stroke-width="1.1"/>
<path d="M324.5,655.30H326.8 M324.5,626.47H326.8 M324.5,597.63H326.8 M324.5,568.80H326.8" stroke="#111" stroke-width="0.9"/>
<text x="324.20" y="657.60" font-size="6.6" text-anchor="end" fill="#111" >0</text>
<text x="324.20" y="628.77" font-size="6.6" text-anchor="end" fill="#111" >1</text>
<text x="324.20" y="599.93" font-size="6.6" text-anchor="end" fill="#111" >2</text>
<text x="324.20" y="571.10" font-size="6.6" text-anchor="end" fill="#111" >3</text>
<path d="M336.70,655.3v2.2 M359.20,655.3v2.2 M381.50,655.3v2.2 M404.30,655.3v2.2" stroke="#111" stroke-width="0.9"/>
<text transform="translate(339.70,662.60) rotate(-45)" font-size="7" font-weight="bold" text-anchor="end" fill="#111">PER2-a</text>
<text transform="translate(362.20,662.60) rotate(-45)" font-size="7" font-weight="bold" text-anchor="end" fill="#111">PER2-b</text>
<text transform="translate(384.50,662.60) rotate(-45)" font-size="7" font-weight="bold" text-anchor="end" fill="#111">PER2-c</text>
<text transform="translate(407.30,662.60) rotate(-45)" font-size="7" font-weight="bold" text-anchor="end" fill="#111">PER2-d</text>
<text transform="translate(315.30,612.00) rotate(-90)" font-size="7.05" font-weight="bold" text-anchor="middle" fill="#111">Fold of Input DNA</text>
<rect x="467.10" y="639.03" width="5.40" height="13.97" fill="#000080" stroke="#111" stroke-width="0.5"/>
<path d="M469.80,639.03V635.43M468.20,635.43h3.2" stroke="#111" stroke-width="0.8"/>
<rect x="474.50" y="629.96" width="5.80" height="23.04" fill="#9c0000" stroke="#111" stroke-width="0.5"/>
<path d="M477.40,629.96V624.92M475.80,624.92h3.2" stroke="#111" stroke-width="0.8"/>
<text x="477.40" y="625.20" font-size="6.2" text-anchor="middle" fill="#111" >**</text>
<rect x="489.30" y="638.60" width="5.40" height="14.40" fill="#000080" stroke="#111" stroke-width="0.5"/>
<path d="M492.00,638.60V634.28M490.40,634.28h3.2" stroke="#111" stroke-width="0.8"/>
<rect x="496.70" y="609.08" width="5.80" height="43.92" fill="#9c0000" stroke="#111" stroke-width="0.5"/>
<path d="M499.60,609.08V590.07M498.00,590.07h3.2" stroke="#111" stroke-width="0.8"/>
<text x="499.60" y="590.00" font-size="6.2" text-anchor="middle" fill="#111" >**</text>
<rect x="511.50" y="638.60" width="5.40" height="14.40" fill="#000080" stroke="#111" stroke-width="0.5"/>
<path d="M514.20,638.60V637.16M512.60,637.16h3.2" stroke="#111" stroke-width="0.8"/>
<rect x="518.90" y="604.76" width="5.80" height="48.24" fill="#9c0000" stroke="#111" stroke-width="0.5"/>
<path d="M521.80,604.76V596.84M520.20,596.84h3.2" stroke="#111" stroke-width="0.8"/>
<text x="521.80" y="596.10" font-size="6.2" text-anchor="middle" fill="#111" >***</text>
<rect x="534.10" y="638.89" width="5.40" height="14.11" fill="#000080" stroke="#111" stroke-width="0.5"/>
<path d="M536.80,638.89V636.44M535.20,636.44h3.2" stroke="#111" stroke-width="0.8"/>
<rect x="541.50" y="578.12" width="5.80" height="74.88" fill="#9c0000" stroke="#111" stroke-width="0.5"/>
<path d="M544.40,578.12V572.36M542.80,572.36h3.2" stroke="#111" stroke-width="0.8"/>
<text x="544.40" y="572.30" font-size="6.2" text-anchor="middle" fill="#111" >***</text>
<path d="M463.5,566.1V653.0" fill="none" stroke="#111" stroke-width="1.2"/>
<path d="M463.0,653.0H551.0" fill="none" stroke="#111" stroke-width="1.1"/>
<path d="M461.2,653.00H463.5 M461.2,631.40H463.5 M461.2,609.80H463.5 M461.2,588.20H463.5 M461.2,566.60H463.5" stroke="#111" stroke-width="0.9"/>
<text x="460.90" y="655.30" font-size="6.6" text-anchor="end" fill="#111" >0.0</text>
<text x="460.90" y="633.70" font-size="6.6" text-anchor="end" fill="#111" >1.5</text>
<text x="460.90" y="612.10" font-size="6.6" text-anchor="end" fill="#111" >3.0</text>
<text x="460.90" y="590.50" font-size="6.6" text-anchor="end" fill="#111" >4.5</text>
<text x="460.90" y="568.90" font-size="6.6" text-anchor="end" fill="#111" >6.0</text>
<path d="M473.70,653.0v2.2 M495.90,653.0v2.2 M518.10,653.0v2.2 M540.70,653.0v2.2" stroke="#111" stroke-width="0.9"/>
<text transform="translate(476.70,660.30) rotate(-45)" font-size="7" font-weight="bold" text-anchor="end" fill="#111">PER2-a</text>
<text transform="translate(498.90,660.30) rotate(-45)" font-size="7" font-weight="bold" text-anchor="end" fill="#111">PER2-b</text>
<text transform="translate(521.10,660.30) rotate(-45)" font-size="7" font-weight="bold" text-anchor="end" fill="#111">PER2-c</text>
<text transform="translate(543.70,660.30) rotate(-45)" font-size="7" font-weight="bold" text-anchor="end" fill="#111">PER2-d</text>
<text transform="translate(447.10,610.00) rotate(-90)" font-size="7.05" font-weight="bold" text-anchor="middle" fill="#111">Fold of Input DNA</text>
<rect x="584.40" y="610.17" width="5.70" height="43.63" fill="#000080" stroke="#111" stroke-width="0.5"/>
<path d="M587.25,610.17V599.37M585.65,599.37h3.2" stroke="#111" stroke-width="0.8"/>
<rect x="592.60" y="611.03" width="5.10" height="42.77" fill="#9c0000" stroke="#111" stroke-width="0.5"/>
<path d="M595.15,611.03V610.60M593.55,610.60h3.2" stroke="#111" stroke-width="0.8"/>
<rect x="607.30" y="609.74" width="5.70" height="44.06" fill="#000080" stroke="#111" stroke-width="0.5"/>
<path d="M610.15,609.74V597.21M608.55,597.21h3.2" stroke="#111" stroke-width="0.8"/>
<rect x="615.50" y="582.52" width="5.10" height="71.28" fill="#9c0000" stroke="#111" stroke-width="0.5"/>
<path d="M618.05,582.52V572.58M616.45,572.58h3.2" stroke="#111" stroke-width="0.8"/>
<rect x="629.60" y="610.60" width="5.70" height="43.20" fill="#000080" stroke="#111" stroke-width="0.5"/>
<path d="M632.45,610.60V609.30M630.85,609.30h3.2" stroke="#111" stroke-width="0.8"/>
<rect x="637.80" y="616.22" width="5.10" height="37.58" fill="#9c0000" stroke="#111" stroke-width="0.5"/>
<path d="M640.35,616.22V614.49M638.75,614.49h3.2" stroke="#111" stroke-width="0.8"/>
<text x="640.35" y="609.50" font-size="6.2" text-anchor="middle" fill="#111" >**</text>
<rect x="652.00" y="610.60" width="5.70" height="43.20" fill="#000080" stroke="#111" stroke-width="0.5"/>
<path d="M654.85,610.60V605.42M653.25,605.42h3.2" stroke="#111" stroke-width="0.8"/>
<rect x="660.20" y="601.53" width="5.10" height="52.27" fill="#9c0000" stroke="#111" stroke-width="0.5"/>
<path d="M662.75,601.53V598.50M661.15,598.50h3.2" stroke="#111" stroke-width="0.8"/>
<path d="M581.3,566.9V653.8" fill="none" stroke="#111" stroke-width="1.2"/>
<path d="M580.8,653.8H668.7" fill="none" stroke="#111" stroke-width="1.1"/>
<path d="M579.0,653.80H581.3 M579.0,632.20H581.3 M579.0,610.60H581.3 M579.0,589.00H581.3 M579.0,567.40H581.3" stroke="#111" stroke-width="0.9"/>
<text x="578.70" y="656.10" font-size="6.6" text-anchor="end" fill="#111" >0.0</text>
<text x="578.70" y="634.50" font-size="6.6" text-anchor="end" fill="#111" >0.5</text>
<text x="578.70" y="612.90" font-size="6.6" text-anchor="end" fill="#111" >1.0</text>
<text x="578.70" y="591.30" font-size="6.6" text-anchor="end" fill="#111" >1.5</text>
<text x="578.70" y="569.70" font-size="6.6" text-anchor="end" fill="#111" >2.0</text>
<path d="M591.00,653.8v2.2 M613.90,653.8v2.2 M636.20,653.8v2.2 M658.60,653.8v2.2" stroke="#111" stroke-width="0.9"/>
<text transform="translate(594.00,661.10) rotate(-45)" font-size="7" font-weight="bold" text-anchor="end" fill="#111">PER2-a</text>
<text transform="translate(616.90,661.10) rotate(-45)" font-size="7" font-weight="bold" text-anchor="end" fill="#111">PER2-b</text>
<text transform="translate(639.20,661.10) rotate(-45)" font-size="7" font-weight="bold" text-anchor="end" fill="#111">PER2-c</text>
<text transform="translate(661.60,661.10) rotate(-45)" font-size="7" font-weight="bold" text-anchor="end" fill="#111">PER2-d</text>
<text transform="translate(564.80,610.00) rotate(-90)" font-size="7.05" font-weight="bold" text-anchor="middle" fill="#111">Fold of Input DNA</text>
<rect x="334" y="553.3" width="9.2" height="3.7" fill="#000"/><rect x="334" y="562.6" width="9.2" height="3.7" fill="#ff0000" stroke="#111" stroke-width="0.4"/>
<text x="349.30" y="557.40" font-size="6.7" text-anchor="start" fill="#222" >si-NC</text>
<text x="349.30" y="567.00" font-size="6.7" text-anchor="start" fill="#222" >si-KDM6A</text>
<rect x="588.5" y="552.8" width="9.5" height="4.1" fill="#000080"/><rect x="588.5" y="561.8" width="9.5" height="4.2" fill="#9c0000"/>
<text x="603.9" y="557.9" font-size="7.0" fill="#222">KDM6A<tspan font-size="4.83" dy="-2.90">S829A</tspan></text>
<text x="603.9" y="566.8" font-size="7.0" fill="#222">KDM6A<tspan font-size="4.83" dy="-2.90">S829D</tspan></text>
</svg>
</body></html>
